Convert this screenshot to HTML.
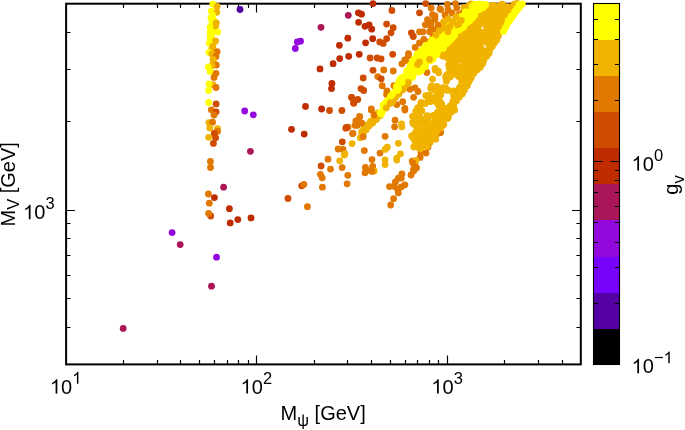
<!DOCTYPE html>
<html><head><meta charset="utf-8"><title>scatter</title>
<style>html,body{margin:0;padding:0;background:#fff;}body{width:685px;height:430px;overflow:hidden;position:relative;font-family:"Liberation Sans",sans-serif;}</style>
</head><body>
<svg width="685" height="430" viewBox="0 0 685 430" style="display:block;position:absolute;left:0;top:0">
<rect width="685" height="430" fill="#fff"/>
<rect x="593.5" y="328.40" width="26.0" height="36.40" fill="#000000" shape-rendering="crispEdges"/>
<rect x="593.5" y="292.30" width="26.0" height="36.40" fill="#5500a4" shape-rendering="crispEdges"/>
<rect x="593.5" y="256.20" width="26.0" height="36.40" fill="#7803fb" shape-rendering="crispEdges"/>
<rect x="593.5" y="220.10" width="26.0" height="36.40" fill="#9309dd" shape-rendering="crispEdges"/>
<rect x="593.5" y="184.00" width="26.0" height="36.40" fill="#aa1657" shape-rendering="crispEdges"/>
<rect x="593.5" y="147.90" width="26.0" height="36.40" fill="#be2c00" shape-rendering="crispEdges"/>
<rect x="593.5" y="111.80" width="26.0" height="36.40" fill="#d04c00" shape-rendering="crispEdges"/>
<rect x="593.5" y="75.70" width="26.0" height="36.40" fill="#e17800" shape-rendering="crispEdges"/>
<rect x="593.5" y="39.60" width="26.0" height="36.40" fill="#f0b300" shape-rendering="crispEdges"/>
<rect x="593.5" y="3.50" width="26.0" height="36.40" fill="#ffff00" shape-rendering="crispEdges"/>
<path d="M593.5 303.50h4.6M619.5 303.50h-4.6M593.5 267.50h4.6M619.5 267.50h-4.6M593.5 242.50h4.6M619.5 242.50h-4.6M593.5 222.50h4.6M619.5 222.50h-4.6M593.5 206.50h4.6M619.5 206.50h-4.6M593.5 192.50h4.6M619.5 192.50h-4.6M593.5 180.50h4.6M619.5 180.50h-4.6M593.5 170.50h4.6M619.5 170.50h-4.6M593.5 100.50h4.6M619.5 100.50h-4.6M593.5 64.50h4.6M619.5 64.50h-4.6M593.5 39.50h4.6M619.5 39.50h-4.6M593.5 19.50h4.6M619.5 19.50h-4.6M593.5 364.50h9M619.5 364.50h-9M593.5 161.50h9M619.5 161.50h-9" stroke="#000" stroke-width="1.1" fill="none"/>
<rect x="593.5" y="3.5" width="26.0" height="361.0" fill="none" stroke="#000" stroke-width="1.1"/>
<path d="M123.50 364.4v-4.4M123.50 3.7v4.4M157.50 364.4v-4.4M157.50 3.7v4.4M180.50 364.4v-4.4M180.50 3.7v4.4M199.50 364.4v-4.4M199.50 3.7v4.4M214.50 364.4v-4.4M214.50 3.7v4.4M227.50 364.4v-4.4M227.50 3.7v4.4M238.50 364.4v-4.4M238.50 3.7v4.4M248.50 364.4v-4.4M248.50 3.7v4.4M256.50 364.4v-8.8M256.50 3.7v8.8M314.50 364.4v-4.4M314.50 3.7v4.4M347.50 364.4v-4.4M347.50 3.7v4.4M371.50 364.4v-4.4M371.50 3.7v4.4M390.50 364.4v-4.4M390.50 3.7v4.4M405.50 364.4v-4.4M405.50 3.7v4.4M417.50 364.4v-4.4M417.50 3.7v4.4M429.50 364.4v-4.4M429.50 3.7v4.4M438.50 364.4v-4.4M438.50 3.7v4.4M447.50 364.4v-8.8M447.50 3.7v8.8M504.50 364.4v-4.4M504.50 3.7v4.4M538.50 364.4v-4.4M538.50 3.7v4.4M562.50 364.4v-4.4M562.50 3.7v4.4M66.1 327.50h4.4M580.8 327.50h-4.4M66.1 298.50h4.4M580.8 298.50h-4.4M66.1 275.50h4.4M580.8 275.50h-4.4M66.1 255.50h4.4M580.8 255.50h-4.4M66.1 238.50h4.4M580.8 238.50h-4.4M66.1 223.50h4.4M580.8 223.50h-4.4M66.1 210.50h8.8M580.8 210.50h-8.8M66.1 121.50h4.4M580.8 121.50h-4.4M66.1 69.50h4.4M580.8 69.50h-4.4M66.1 32.50h4.4M580.8 32.50h-4.4" stroke="#000" stroke-width="1.15" fill="none"/>
<rect x="66.1" y="3.7" width="514.70" height="360.70" fill="none" stroke="#000" stroke-width="2.0"/>
<circle cx="123.2" cy="328.4" r="3.4" fill="#aa1657"/>
<circle cx="211.5" cy="286.2" r="3.4" fill="#aa1657"/>
<circle cx="216.5" cy="257.2" r="3.4" fill="#9309dd"/>
<circle cx="180.2" cy="244.6" r="3.4" fill="#aa1657"/>
<circle cx="172.1" cy="232.6" r="3.4" fill="#9309dd"/>
<circle cx="230.2" cy="222.9" r="3.4" fill="#be2c00"/>
<circle cx="237.8" cy="219.6" r="3.4" fill="#be2c00"/>
<circle cx="251.0" cy="217.9" r="3.4" fill="#be2c00"/>
<circle cx="229.4" cy="208.7" r="3.4" fill="#be2c00"/>
<circle cx="240.0" cy="9.5" r="3.4" fill="#5500a4"/>
<circle cx="244.7" cy="111.0" r="3.4" fill="#9309dd"/>
<circle cx="253.3" cy="114.8" r="3.4" fill="#9309dd"/>
<circle cx="250.4" cy="151.3" r="3.4" fill="#aa1657"/>
<circle cx="223.6" cy="187.2" r="3.4" fill="#aa1657"/>
<circle cx="348.3" cy="15.3" r="3.4" fill="#aa1657"/>
<circle cx="321.0" cy="27.3" r="3.4" fill="#aa1657"/>
<circle cx="297.3" cy="42.0" r="3.4" fill="#9309dd"/>
<circle cx="300.5" cy="41.2" r="3.4" fill="#9309dd"/>
<circle cx="295.3" cy="48.5" r="3.4" fill="#9309dd"/>
<circle cx="347.8" cy="38.2" r="3.4" fill="#be2c00"/>
<circle cx="339.4" cy="45.3" r="3.4" fill="#be2c00"/>
<circle cx="348.7" cy="56.3" r="3.4" fill="#be2c00"/>
<circle cx="339.7" cy="58.6" r="3.4" fill="#be2c00"/>
<circle cx="333.1" cy="63.7" r="3.4" fill="#be2c00"/>
<circle cx="320.0" cy="68.9" r="3.4" fill="#be2c00"/>
<circle cx="331.9" cy="83.5" r="3.4" fill="#be2c00"/>
<circle cx="331.5" cy="88.6" r="3.4" fill="#be2c00"/>
<circle cx="351.6" cy="97.5" r="3.4" fill="#d04c00"/>
<circle cx="353.6" cy="103.0" r="3.4" fill="#d04c00"/>
<circle cx="305.5" cy="106.4" r="3.4" fill="#be2c00"/>
<circle cx="321.6" cy="109.0" r="3.4" fill="#be2c00"/>
<circle cx="329.5" cy="110.5" r="3.4" fill="#d04c00"/>
<circle cx="341.9" cy="110.5" r="3.4" fill="#d04c00"/>
<circle cx="291.5" cy="129.3" r="3.4" fill="#be2c00"/>
<circle cx="304.2" cy="134.1" r="3.4" fill="#be2c00"/>
<circle cx="348.0" cy="127.2" r="3.4" fill="#e17800"/>
<circle cx="345.8" cy="128.2" r="3.4" fill="#d04c00"/>
<circle cx="355.0" cy="125.3" r="3.4" fill="#e17800"/>
<circle cx="352.5" cy="133.6" r="3.4" fill="#e17800"/>
<circle cx="342.3" cy="141.8" r="3.4" fill="#d04c00"/>
<circle cx="352.1" cy="143.6" r="3.4" fill="#f0b300"/>
<circle cx="338.2" cy="149.0" r="3.4" fill="#e17800"/>
<circle cx="343.0" cy="149.4" r="3.4" fill="#e17800"/>
<circle cx="344.3" cy="155.0" r="3.4" fill="#f0b300"/>
<circle cx="328.0" cy="159.2" r="3.4" fill="#e17800"/>
<circle cx="339.7" cy="160.8" r="3.4" fill="#f0b300"/>
<circle cx="321.1" cy="166.0" r="3.4" fill="#d04c00"/>
<circle cx="342.2" cy="167.6" r="3.4" fill="#e17800"/>
<circle cx="330.5" cy="169.1" r="3.4" fill="#e17800"/>
<circle cx="320.4" cy="174.3" r="3.4" fill="#e17800"/>
<circle cx="322.2" cy="177.8" r="3.4" fill="#e17800"/>
<circle cx="347.8" cy="175.3" r="3.4" fill="#e17800"/>
<circle cx="347.1" cy="183.8" r="3.4" fill="#e17800"/>
<circle cx="322.4" cy="187.2" r="3.4" fill="#e17800"/>
<circle cx="301.7" cy="185.8" r="3.4" fill="#d04c00"/>
<circle cx="303.9" cy="184.5" r="3.4" fill="#e17800"/>
<circle cx="288.0" cy="198.5" r="3.4" fill="#d04c00"/>
<circle cx="307.4" cy="206.7" r="3.4" fill="#e17800"/>
<circle cx="358.4" cy="12.8" r="3.4" fill="#be2c00"/>
<circle cx="361.5" cy="14.2" r="3.4" fill="#be2c00"/>
<circle cx="373.0" cy="3.6" r="3.4" fill="#be2c00"/>
<circle cx="358.6" cy="22.3" r="3.4" fill="#be2c00"/>
<circle cx="365.0" cy="26.3" r="3.4" fill="#be2c00"/>
<circle cx="369.1" cy="24.8" r="3.4" fill="#be2c00"/>
<circle cx="371.7" cy="29.2" r="3.4" fill="#be2c00"/>
<circle cx="372.7" cy="38.7" r="3.4" fill="#be2c00"/>
<circle cx="365.6" cy="42.8" r="3.4" fill="#be2c00"/>
<circle cx="359.2" cy="54.3" r="3.4" fill="#be2c00"/>
<circle cx="391.9" cy="10.5" r="3.4" fill="#d04c00"/>
<circle cx="386.6" cy="24.1" r="3.4" fill="#d04c00"/>
<circle cx="393.2" cy="27.7" r="3.4" fill="#d04c00"/>
<circle cx="391.0" cy="32.8" r="3.4" fill="#d04c00"/>
<circle cx="386.6" cy="38.7" r="3.4" fill="#d04c00"/>
<circle cx="379.7" cy="41.9" r="3.4" fill="#d04c00"/>
<circle cx="383.2" cy="43.4" r="3.4" fill="#d04c00"/>
<circle cx="392.7" cy="54.3" r="3.4" fill="#d04c00"/>
<circle cx="370.1" cy="58.0" r="3.4" fill="#d04c00"/>
<circle cx="377.1" cy="58.0" r="3.4" fill="#d04c00"/>
<circle cx="381.1" cy="58.9" r="3.4" fill="#d04c00"/>
<circle cx="425.7" cy="3.6" r="3.4" fill="#d04c00"/>
<circle cx="419.5" cy="12.8" r="3.4" fill="#d04c00"/>
<circle cx="411.4" cy="32.8" r="3.4" fill="#d04c00"/>
<circle cx="413.3" cy="36.5" r="3.4" fill="#d04c00"/>
<circle cx="431.1" cy="8.0" r="3.4" fill="#e17800"/>
<circle cx="440.6" cy="9.5" r="3.4" fill="#e17800"/>
<circle cx="432.6" cy="14.6" r="3.4" fill="#e17800"/>
<circle cx="427.5" cy="19.7" r="3.4" fill="#e17800"/>
<circle cx="431.1" cy="21.9" r="3.4" fill="#e17800"/>
<circle cx="425.3" cy="24.8" r="3.4" fill="#e17800"/>
<circle cx="438.4" cy="25.5" r="3.4" fill="#e17800"/>
<circle cx="419.5" cy="31.8" r="3.4" fill="#e17800"/>
<circle cx="423.1" cy="31.8" r="3.4" fill="#e17800"/>
<circle cx="429.7" cy="31.8" r="3.4" fill="#e17800"/>
<circle cx="423.8" cy="39.4" r="3.4" fill="#e17800"/>
<circle cx="419.5" cy="43.0" r="3.4" fill="#e17800"/>
<circle cx="415.1" cy="47.4" r="3.4" fill="#e17800"/>
<circle cx="408.5" cy="53.6" r="3.4" fill="#e17800"/>
<circle cx="404.9" cy="59.9" r="3.4" fill="#e17800"/>
<circle cx="439.2" cy="31.4" r="3.4" fill="#f0b300"/>
<circle cx="428.0" cy="42.0" r="3.4" fill="#e17800"/>
<circle cx="433.0" cy="37.0" r="3.4" fill="#e17800"/>
<circle cx="436.0" cy="30.0" r="3.4" fill="#e17800"/>
<circle cx="426.0" cy="47.0" r="3.4" fill="#e17800"/>
<circle cx="421.0" cy="51.0" r="3.4" fill="#e17800"/>
<circle cx="431.0" cy="27.0" r="3.4" fill="#e17800"/>
<circle cx="435.0" cy="19.0" r="3.4" fill="#e17800"/>
<circle cx="440.0" cy="8.8" r="3.4" fill="#e17800"/>
<circle cx="448.0" cy="10.0" r="3.4" fill="#e17800"/>
<circle cx="447.4" cy="4.4" r="3.4" fill="#e17800"/>
<circle cx="456.9" cy="8.0" r="3.4" fill="#e17800"/>
<circle cx="459.0" cy="14.6" r="3.4" fill="#e17800"/>
<circle cx="462.7" cy="13.0" r="3.4" fill="#e17800"/>
<circle cx="455.4" cy="3.6" r="3.4" fill="#e17800"/>
<circle cx="438.0" cy="24.8" r="3.4" fill="#e17800"/>
<circle cx="435.0" cy="16.0" r="3.4" fill="#e17800"/>
<circle cx="448.0" cy="19.0" r="3.4" fill="#f0b300"/>
<circle cx="452.5" cy="22.0" r="3.4" fill="#f0b300"/>
<circle cx="443.8" cy="22.0" r="3.4" fill="#f0b300"/>
<circle cx="439.4" cy="30.7" r="3.4" fill="#f0b300"/>
<circle cx="461.3" cy="20.4" r="3.4" fill="#f0b300"/>
<circle cx="464.0" cy="7.3" r="3.4" fill="#f0b300"/>
<circle cx="468.6" cy="5.8" r="3.4" fill="#f0b300"/>
<circle cx="444.0" cy="28.0" r="3.4" fill="#f0b300"/>
<circle cx="450.0" cy="26.0" r="3.4" fill="#f0b300"/>
<circle cx="456.0" cy="17.0" r="3.4" fill="#f0b300"/>
<circle cx="466.0" cy="11.0" r="3.4" fill="#f0b300"/>
<circle cx="471.0" cy="4.0" r="3.4" fill="#f0b300"/>
<circle cx="445.0" cy="15.0" r="3.4" fill="#e17800"/>
<circle cx="452.0" cy="13.0" r="3.4" fill="#e17800"/>
<circle cx="373.0" cy="70.3" r="3.4" fill="#d04c00"/>
<circle cx="383.7" cy="69.9" r="3.4" fill="#e17800"/>
<circle cx="393.2" cy="71.0" r="3.4" fill="#e17800"/>
<circle cx="363.2" cy="78.0" r="3.4" fill="#d04c00"/>
<circle cx="377.8" cy="76.6" r="3.4" fill="#e17800"/>
<circle cx="381.2" cy="78.8" r="3.4" fill="#d04c00"/>
<circle cx="382.2" cy="85.7" r="3.4" fill="#e17800"/>
<circle cx="361.0" cy="88.6" r="3.4" fill="#d04c00"/>
<circle cx="363.7" cy="90.5" r="3.4" fill="#d04c00"/>
<circle cx="386.9" cy="90.8" r="3.4" fill="#e17800"/>
<circle cx="386.6" cy="94.4" r="3.4" fill="#e17800"/>
<circle cx="393.9" cy="85.7" r="3.4" fill="#e17800"/>
<circle cx="351.6" cy="97.3" r="3.4" fill="#d04c00"/>
<circle cx="357.8" cy="99.5" r="3.4" fill="#d04c00"/>
<circle cx="353.8" cy="103.2" r="3.4" fill="#d04c00"/>
<circle cx="371.3" cy="109.0" r="3.4" fill="#e17800"/>
<circle cx="359.6" cy="116.3" r="3.4" fill="#e17800"/>
<circle cx="374.2" cy="114.9" r="3.4" fill="#e17800"/>
<circle cx="401.9" cy="63.8" r="3.4" fill="#e17800"/>
<circle cx="405.6" cy="60.8" r="3.4" fill="#e17800"/>
<circle cx="408.5" cy="55.7" r="3.4" fill="#e17800"/>
<circle cx="426.8" cy="72.5" r="3.4" fill="#e17800"/>
<circle cx="410.0" cy="89.3" r="3.4" fill="#e17800"/>
<circle cx="415.0" cy="87.8" r="3.4" fill="#e17800"/>
<circle cx="418.0" cy="91.5" r="3.4" fill="#e17800"/>
<circle cx="413.6" cy="97.3" r="3.4" fill="#e17800"/>
<circle cx="402.7" cy="101.7" r="3.4" fill="#e17800"/>
<circle cx="396.8" cy="104.6" r="3.4" fill="#e17800"/>
<circle cx="404.9" cy="108.3" r="3.4" fill="#e17800"/>
<circle cx="380.0" cy="115.8" r="3.4" fill="#f0b300"/>
<circle cx="376.4" cy="119.5" r="3.4" fill="#f0b300"/>
<circle cx="372.7" cy="123.1" r="3.4" fill="#f0b300"/>
<circle cx="369.1" cy="126.0" r="3.4" fill="#f0b300"/>
<circle cx="366.2" cy="129.7" r="3.4" fill="#f0b300"/>
<circle cx="363.2" cy="133.4" r="3.4" fill="#f0b300"/>
<circle cx="360.3" cy="137.7" r="3.4" fill="#f0b300"/>
<circle cx="378.0" cy="113.0" r="3.4" fill="#f0b300"/>
<circle cx="374.0" cy="117.5" r="3.4" fill="#f0b300"/>
<circle cx="370.5" cy="121.5" r="3.4" fill="#f0b300"/>
<circle cx="367.5" cy="125.0" r="3.4" fill="#f0b300"/>
<circle cx="364.0" cy="128.5" r="3.4" fill="#f0b300"/>
<circle cx="361.5" cy="132.0" r="3.4" fill="#f0b300"/>
<circle cx="359.6" cy="117.3" r="3.4" fill="#e17800"/>
<circle cx="355.9" cy="121.0" r="3.4" fill="#e17800"/>
<circle cx="361.8" cy="123.1" r="3.4" fill="#e17800"/>
<circle cx="357.4" cy="125.3" r="3.4" fill="#e17800"/>
<circle cx="353.0" cy="133.4" r="3.4" fill="#e17800"/>
<circle cx="363.2" cy="136.7" r="3.4" fill="#e17800"/>
<circle cx="374.2" cy="115.1" r="3.4" fill="#e17800"/>
<circle cx="371.3" cy="110.0" r="3.4" fill="#e17800"/>
<circle cx="346.5" cy="127.5" r="3.4" fill="#d04c00"/>
<circle cx="345.0" cy="153.8" r="3.4" fill="#f0b300"/>
<circle cx="364.3" cy="150.6" r="3.4" fill="#e17800"/>
<circle cx="380.0" cy="153.1" r="3.4" fill="#e17800"/>
<circle cx="385.1" cy="136.3" r="3.4" fill="#e17800"/>
<circle cx="372.0" cy="159.6" r="3.4" fill="#e17800"/>
<circle cx="372.7" cy="166.4" r="3.4" fill="#e17800"/>
<circle cx="365.4" cy="167.5" r="3.4" fill="#e17800"/>
<circle cx="370.5" cy="170.6" r="3.4" fill="#e17800"/>
<circle cx="387.3" cy="147.2" r="3.4" fill="#f0b300"/>
<circle cx="385.1" cy="149.4" r="3.4" fill="#f0b300"/>
<circle cx="385.1" cy="159.8" r="3.4" fill="#f0b300"/>
<circle cx="385.1" cy="164.6" r="3.4" fill="#f0b300"/>
<circle cx="398.3" cy="143.3" r="3.4" fill="#f0b300"/>
<circle cx="400.5" cy="153.8" r="3.4" fill="#f0b300"/>
<circle cx="396.8" cy="158.2" r="3.4" fill="#f0b300"/>
<circle cx="396.8" cy="160.0" r="3.4" fill="#f0b300"/>
<circle cx="395.1" cy="120.2" r="3.4" fill="#e17800"/>
<circle cx="394.6" cy="126.8" r="3.4" fill="#e17800"/>
<circle cx="401.6" cy="123.9" r="3.4" fill="#f0b300"/>
<circle cx="401.9" cy="126.8" r="3.4" fill="#f0b300"/>
<circle cx="404.9" cy="110.0" r="3.4" fill="#e17800"/>
<circle cx="420.9" cy="152.3" r="3.4" fill="#e17800"/>
<circle cx="426.0" cy="153.1" r="3.4" fill="#e17800"/>
<circle cx="420.2" cy="157.4" r="3.4" fill="#e17800"/>
<circle cx="412.2" cy="161.1" r="3.4" fill="#e17800"/>
<circle cx="415.1" cy="164.7" r="3.4" fill="#e17800"/>
<circle cx="413.6" cy="169.1" r="3.4" fill="#e17800"/>
<circle cx="440.6" cy="132.6" r="3.4" fill="#e17800"/>
<circle cx="415.8" cy="160.4" r="3.4" fill="#f0b300"/>
<circle cx="374.2" cy="171.0" r="3.4" fill="#f0b300"/>
<circle cx="365.0" cy="172.8" r="3.4" fill="#e17800"/>
<circle cx="372.0" cy="171.4" r="3.4" fill="#e17800"/>
<circle cx="412.9" cy="162.9" r="3.4" fill="#e17800"/>
<circle cx="416.5" cy="168.0" r="3.4" fill="#e17800"/>
<circle cx="413.6" cy="171.0" r="3.4" fill="#e17800"/>
<circle cx="411.0" cy="175.0" r="3.4" fill="#e17800"/>
<circle cx="401.9" cy="173.9" r="3.4" fill="#e17800"/>
<circle cx="401.2" cy="178.2" r="3.4" fill="#e17800"/>
<circle cx="398.3" cy="178.2" r="3.4" fill="#e17800"/>
<circle cx="395.4" cy="181.9" r="3.4" fill="#e17800"/>
<circle cx="404.9" cy="184.8" r="3.4" fill="#e17800"/>
<circle cx="401.2" cy="187.0" r="3.4" fill="#e17800"/>
<circle cx="389.5" cy="186.6" r="3.4" fill="#e17800"/>
<circle cx="393.9" cy="186.3" r="3.4" fill="#e17800"/>
<circle cx="397.6" cy="189.2" r="3.4" fill="#e17800"/>
<circle cx="398.3" cy="192.8" r="3.4" fill="#e17800"/>
<circle cx="393.6" cy="198.7" r="3.4" fill="#e17800"/>
<circle cx="390.7" cy="205.0" r="3.4" fill="#e17800"/>
<circle cx="454.7" cy="110.0" r="3.4" fill="#f0b300"/>
<circle cx="448.1" cy="118.0" r="3.4" fill="#f0b300"/>
<circle cx="441.6" cy="117.3" r="3.4" fill="#f0b300"/>
<circle cx="443.8" cy="124.6" r="3.4" fill="#f0b300"/>
<circle cx="439.4" cy="126.0" r="3.4" fill="#f0b300"/>
<circle cx="436.5" cy="134.8" r="3.4" fill="#f0b300"/>
<circle cx="435.7" cy="139.2" r="3.4" fill="#f0b300"/>
<circle cx="417.0" cy="123.8" r="3.4" fill="#f0b300"/>
<circle cx="447.5" cy="114.5" r="3.4" fill="#f0b300"/>
<circle cx="421.9" cy="123.6" r="3.4" fill="#f0b300"/>
<circle cx="465.6" cy="67.9" r="3.4" fill="#f0b300"/>
<circle cx="468.0" cy="80.0" r="3.4" fill="#f0b300"/>
<circle cx="488.9" cy="14.0" r="3.4" fill="#f0b300"/>
<circle cx="486.9" cy="28.1" r="3.4" fill="#f0b300"/>
<circle cx="466.8" cy="31.0" r="3.4" fill="#f0b300"/>
<circle cx="467.7" cy="41.9" r="3.4" fill="#f0b300"/>
<circle cx="439.0" cy="112.7" r="3.4" fill="#f0b300"/>
<circle cx="465.3" cy="60.8" r="3.4" fill="#f0b300"/>
<circle cx="467.0" cy="67.9" r="3.4" fill="#f0b300"/>
<circle cx="433.7" cy="132.0" r="3.4" fill="#f0b300"/>
<circle cx="468.0" cy="35.7" r="3.4" fill="#f0b300"/>
<circle cx="496.3" cy="33.1" r="3.4" fill="#f0b300"/>
<circle cx="459.4" cy="73.3" r="3.4" fill="#f0b300"/>
<circle cx="505.4" cy="11.6" r="3.4" fill="#f0b300"/>
<circle cx="454.6" cy="69.3" r="3.4" fill="#f0b300"/>
<circle cx="468.2" cy="69.4" r="3.4" fill="#f0b300"/>
<circle cx="466.3" cy="42.8" r="3.4" fill="#f0b300"/>
<circle cx="487.2" cy="19.1" r="3.4" fill="#f0b300"/>
<circle cx="500.4" cy="5.0" r="3.4" fill="#f0b300"/>
<circle cx="489.6" cy="16.5" r="3.4" fill="#f0b300"/>
<circle cx="483.5" cy="20.2" r="3.4" fill="#f0b300"/>
<circle cx="440.1" cy="132.6" r="3.4" fill="#e17800"/>
<circle cx="483.0" cy="38.2" r="3.4" fill="#f0b300"/>
<circle cx="442.0" cy="55.2" r="3.4" fill="#f0b300"/>
<circle cx="439.2" cy="103.6" r="3.4" fill="#f0b300"/>
<circle cx="482.0" cy="52.3" r="3.4" fill="#f0b300"/>
<circle cx="489.1" cy="53.2" r="3.4" fill="#f0b300"/>
<circle cx="463.7" cy="56.8" r="3.4" fill="#f0b300"/>
<circle cx="463.3" cy="46.2" r="3.4" fill="#f0b300"/>
<circle cx="489.4" cy="45.1" r="3.4" fill="#f0b300"/>
<circle cx="484.2" cy="7.6" r="3.4" fill="#f0b300"/>
<circle cx="509.1" cy="8.4" r="3.4" fill="#f0b300"/>
<circle cx="507.0" cy="13.0" r="3.4" fill="#f0b300"/>
<circle cx="438.5" cy="90.0" r="3.4" fill="#f0b300"/>
<circle cx="440.4" cy="95.1" r="3.4" fill="#f0b300"/>
<circle cx="431.2" cy="128.3" r="3.4" fill="#f0b300"/>
<circle cx="434.4" cy="125.3" r="3.4" fill="#f0b300"/>
<circle cx="473.1" cy="56.4" r="3.4" fill="#f0b300"/>
<circle cx="450.4" cy="63.1" r="3.4" fill="#f0b300"/>
<circle cx="441.6" cy="104.0" r="3.4" fill="#f0b300"/>
<circle cx="447.5" cy="74.6" r="3.4" fill="#f0b300"/>
<circle cx="468.3" cy="25.4" r="3.4" fill="#f0b300"/>
<circle cx="422.4" cy="123.1" r="3.4" fill="#f0b300"/>
<circle cx="459.4" cy="43.5" r="3.4" fill="#f0b300"/>
<circle cx="478.8" cy="47.4" r="3.4" fill="#f0b300"/>
<circle cx="443.3" cy="56.3" r="3.4" fill="#f0b300"/>
<circle cx="471.8" cy="66.4" r="3.4" fill="#f0b300"/>
<circle cx="448.7" cy="64.7" r="3.4" fill="#f0b300"/>
<circle cx="445.9" cy="108.5" r="3.4" fill="#f0b300"/>
<circle cx="497.1" cy="31.6" r="3.4" fill="#f0b300"/>
<circle cx="453.2" cy="55.2" r="3.4" fill="#f0b300"/>
<circle cx="417.5" cy="117.3" r="3.4" fill="#f0b300"/>
<circle cx="467.1" cy="83.9" r="3.4" fill="#f0b300"/>
<circle cx="473.4" cy="49.8" r="3.4" fill="#f0b300"/>
<circle cx="450.1" cy="67.0" r="3.4" fill="#f0b300"/>
<circle cx="415.1" cy="146.0" r="3.4" fill="#f0b300"/>
<circle cx="479.4" cy="44.2" r="3.4" fill="#f0b300"/>
<circle cx="440.5" cy="111.9" r="3.4" fill="#f0b300"/>
<circle cx="492.1" cy="5.7" r="3.4" fill="#f0b300"/>
<circle cx="483.2" cy="9.8" r="3.4" fill="#f0b300"/>
<circle cx="458.2" cy="36.7" r="3.4" fill="#f0b300"/>
<circle cx="488.0" cy="19.9" r="3.4" fill="#f0b300"/>
<circle cx="455.4" cy="99.4" r="3.4" fill="#f0b300"/>
<circle cx="473.7" cy="28.9" r="3.4" fill="#f0b300"/>
<circle cx="424.1" cy="138.3" r="3.4" fill="#f0b300"/>
<circle cx="486.8" cy="56.3" r="3.4" fill="#f0b300"/>
<circle cx="481.8" cy="61.4" r="3.4" fill="#f0b300"/>
<circle cx="476.1" cy="40.1" r="3.4" fill="#f0b300"/>
<circle cx="463.6" cy="52.1" r="3.4" fill="#f0b300"/>
<circle cx="502.7" cy="28.3" r="3.4" fill="#f0b300"/>
<circle cx="479.6" cy="55.9" r="3.4" fill="#f0b300"/>
<circle cx="496.2" cy="22.3" r="3.4" fill="#f0b300"/>
<circle cx="453.5" cy="95.1" r="3.4" fill="#f0b300"/>
<circle cx="466.7" cy="28.1" r="3.4" fill="#f0b300"/>
<circle cx="449.2" cy="43.6" r="3.4" fill="#f0b300"/>
<circle cx="502.5" cy="9.5" r="3.4" fill="#f0b300"/>
<circle cx="461.7" cy="35.2" r="3.4" fill="#f0b300"/>
<circle cx="493.2" cy="22.7" r="3.4" fill="#f0b300"/>
<circle cx="502.6" cy="9.6" r="3.4" fill="#f0b300"/>
<circle cx="499.3" cy="16.8" r="3.4" fill="#f0b300"/>
<circle cx="486.2" cy="9.1" r="3.4" fill="#f0b300"/>
<circle cx="477.5" cy="22.6" r="3.4" fill="#f0b300"/>
<circle cx="435.2" cy="90.3" r="3.4" fill="#f0b300"/>
<circle cx="450.3" cy="76.0" r="3.4" fill="#f0b300"/>
<circle cx="502.9" cy="8.4" r="3.4" fill="#f0b300"/>
<circle cx="447.1" cy="54.5" r="3.4" fill="#f0b300"/>
<circle cx="434.4" cy="134.9" r="3.4" fill="#f0b300"/>
<circle cx="493.2" cy="42.1" r="3.4" fill="#f0b300"/>
<circle cx="507.1" cy="9.1" r="3.4" fill="#f0b300"/>
<circle cx="457.8" cy="66.9" r="3.4" fill="#f0b300"/>
<circle cx="479.1" cy="24.1" r="3.4" fill="#f0b300"/>
<circle cx="427.6" cy="127.7" r="3.4" fill="#f0b300"/>
<circle cx="439.7" cy="94.9" r="3.4" fill="#f0b300"/>
<circle cx="503.1" cy="27.3" r="3.4" fill="#f0b300"/>
<circle cx="492.6" cy="9.9" r="3.4" fill="#f0b300"/>
<circle cx="509.2" cy="9.2" r="3.4" fill="#f0b300"/>
<circle cx="516.4" cy="7.4" r="3.4" fill="#f0b300"/>
<circle cx="423.3" cy="127.1" r="3.4" fill="#f0b300"/>
<circle cx="449.7" cy="71.6" r="3.4" fill="#f0b300"/>
<circle cx="453.0" cy="55.1" r="3.4" fill="#f0b300"/>
<circle cx="428.4" cy="100.2" r="3.4" fill="#f0b300"/>
<circle cx="480.1" cy="18.9" r="3.4" fill="#f0b300"/>
<circle cx="490.3" cy="41.1" r="3.4" fill="#f0b300"/>
<circle cx="459.4" cy="31.1" r="3.4" fill="#f0b300"/>
<circle cx="413.8" cy="147.0" r="3.4" fill="#f0b300"/>
<circle cx="504.6" cy="17.0" r="3.4" fill="#f0b300"/>
<circle cx="434.8" cy="88.4" r="3.4" fill="#f0b300"/>
<circle cx="480.4" cy="64.1" r="3.4" fill="#f0b300"/>
<circle cx="509.1" cy="10.5" r="3.4" fill="#f0b300"/>
<circle cx="508.4" cy="8.5" r="3.4" fill="#f0b300"/>
<circle cx="470.1" cy="28.3" r="3.4" fill="#f0b300"/>
<circle cx="439.3" cy="115.8" r="3.4" fill="#f0b300"/>
<circle cx="497.9" cy="11.8" r="3.4" fill="#f0b300"/>
<circle cx="428.2" cy="132.7" r="3.4" fill="#f0b300"/>
<circle cx="431.5" cy="86.0" r="3.4" fill="#f0b300"/>
<circle cx="456.4" cy="101.0" r="3.4" fill="#f0b300"/>
<circle cx="471.1" cy="77.8" r="3.4" fill="#f0b300"/>
<circle cx="487.1" cy="42.2" r="3.4" fill="#f0b300"/>
<circle cx="459.5" cy="46.2" r="3.4" fill="#f0b300"/>
<circle cx="436.9" cy="86.5" r="3.4" fill="#f0b300"/>
<circle cx="465.1" cy="63.5" r="3.4" fill="#f0b300"/>
<circle cx="441.0" cy="120.9" r="3.4" fill="#f0b300"/>
<circle cx="473.6" cy="24.8" r="3.4" fill="#f0b300"/>
<circle cx="452.6" cy="106.7" r="3.4" fill="#f0b300"/>
<circle cx="459.7" cy="57.7" r="3.4" fill="#f0b300"/>
<circle cx="450.3" cy="56.9" r="3.4" fill="#f0b300"/>
<circle cx="462.5" cy="93.8" r="3.4" fill="#f0b300"/>
<circle cx="446.4" cy="81.2" r="3.4" fill="#f0b300"/>
<circle cx="481.9" cy="13.3" r="3.4" fill="#f0b300"/>
<circle cx="453.4" cy="46.5" r="3.4" fill="#f0b300"/>
<circle cx="464.5" cy="77.3" r="3.4" fill="#f0b300"/>
<circle cx="449.0" cy="49.0" r="3.4" fill="#f0b300"/>
<circle cx="460.5" cy="86.7" r="3.4" fill="#f0b300"/>
<circle cx="477.2" cy="30.8" r="3.4" fill="#f0b300"/>
<circle cx="452.8" cy="56.0" r="3.4" fill="#f0b300"/>
<circle cx="462.5" cy="35.0" r="3.4" fill="#f0b300"/>
<circle cx="490.5" cy="8.5" r="3.4" fill="#f0b300"/>
<circle cx="456.4" cy="42.3" r="3.4" fill="#f0b300"/>
<circle cx="459.0" cy="31.3" r="3.4" fill="#f0b300"/>
<circle cx="456.1" cy="94.5" r="3.4" fill="#f0b300"/>
<circle cx="438.4" cy="100.8" r="3.4" fill="#f0b300"/>
<circle cx="460.1" cy="38.2" r="3.4" fill="#f0b300"/>
<circle cx="470.8" cy="40.0" r="3.4" fill="#f0b300"/>
<circle cx="490.5" cy="10.7" r="3.4" fill="#f0b300"/>
<circle cx="480.1" cy="61.7" r="3.4" fill="#f0b300"/>
<circle cx="472.3" cy="70.4" r="3.4" fill="#f0b300"/>
<circle cx="491.4" cy="30.1" r="3.4" fill="#f0b300"/>
<circle cx="428.0" cy="144.3" r="3.4" fill="#f0b300"/>
<circle cx="436.9" cy="113.9" r="3.4" fill="#f0b300"/>
<circle cx="490.8" cy="44.4" r="3.4" fill="#f0b300"/>
<circle cx="455.5" cy="92.6" r="3.4" fill="#f0b300"/>
<circle cx="474.6" cy="19.1" r="3.4" fill="#f0b300"/>
<circle cx="449.1" cy="67.6" r="3.4" fill="#f0b300"/>
<circle cx="474.7" cy="38.2" r="3.4" fill="#f0b300"/>
<circle cx="455.2" cy="48.9" r="3.4" fill="#f0b300"/>
<circle cx="468.2" cy="70.4" r="3.4" fill="#f0b300"/>
<circle cx="496.0" cy="36.2" r="3.4" fill="#f0b300"/>
<circle cx="491.7" cy="7.2" r="3.4" fill="#f0b300"/>
<circle cx="463.0" cy="66.8" r="3.4" fill="#f0b300"/>
<circle cx="465.8" cy="70.6" r="3.4" fill="#f0b300"/>
<circle cx="452.3" cy="49.9" r="3.4" fill="#f0b300"/>
<circle cx="420.3" cy="139.7" r="3.4" fill="#f0b300"/>
<circle cx="483.9" cy="14.8" r="3.4" fill="#f0b300"/>
<circle cx="439.2" cy="105.2" r="3.4" fill="#f0b300"/>
<circle cx="490.3" cy="30.5" r="3.4" fill="#f0b300"/>
<circle cx="452.7" cy="39.9" r="3.4" fill="#f0b300"/>
<circle cx="487.0" cy="16.5" r="3.4" fill="#f0b300"/>
<circle cx="480.5" cy="61.3" r="3.4" fill="#f0b300"/>
<circle cx="458.3" cy="58.2" r="3.4" fill="#f0b300"/>
<circle cx="495.2" cy="40.4" r="3.4" fill="#f0b300"/>
<circle cx="486.4" cy="23.8" r="3.4" fill="#f0b300"/>
<circle cx="413.4" cy="138.3" r="3.4" fill="#f0b300"/>
<circle cx="463.0" cy="61.8" r="3.4" fill="#f0b300"/>
<circle cx="465.9" cy="28.1" r="3.4" fill="#f0b300"/>
<circle cx="447.2" cy="118.5" r="3.4" fill="#f0b300"/>
<circle cx="494.2" cy="28.2" r="3.4" fill="#f0b300"/>
<circle cx="422.4" cy="128.5" r="3.4" fill="#f0b300"/>
<circle cx="444.6" cy="112.8" r="3.4" fill="#f0b300"/>
<circle cx="493.6" cy="11.4" r="3.4" fill="#f0b300"/>
<circle cx="478.3" cy="26.0" r="3.4" fill="#f0b300"/>
<circle cx="482.6" cy="63.8" r="3.4" fill="#f0b300"/>
<circle cx="462.4" cy="29.8" r="3.4" fill="#f0b300"/>
<circle cx="490.6" cy="46.8" r="3.4" fill="#f0b300"/>
<circle cx="448.5" cy="115.5" r="3.4" fill="#f0b300"/>
<circle cx="469.0" cy="70.5" r="3.4" fill="#f0b300"/>
<circle cx="488.8" cy="34.4" r="3.4" fill="#f0b300"/>
<circle cx="459.7" cy="70.6" r="3.4" fill="#f0b300"/>
<circle cx="449.3" cy="58.7" r="3.4" fill="#f0b300"/>
<circle cx="484.6" cy="51.3" r="3.4" fill="#f0b300"/>
<circle cx="489.8" cy="6.2" r="3.4" fill="#f0b300"/>
<circle cx="496.7" cy="28.0" r="3.4" fill="#f0b300"/>
<circle cx="459.8" cy="77.1" r="3.4" fill="#f0b300"/>
<circle cx="487.2" cy="51.9" r="3.4" fill="#f0b300"/>
<circle cx="471.9" cy="65.0" r="3.4" fill="#f0b300"/>
<circle cx="441.5" cy="118.7" r="3.4" fill="#f0b300"/>
<circle cx="509.6" cy="9.8" r="3.4" fill="#f0b300"/>
<circle cx="445.8" cy="111.4" r="3.4" fill="#f0b300"/>
<circle cx="463.9" cy="74.7" r="3.4" fill="#f0b300"/>
<circle cx="436.7" cy="97.3" r="3.4" fill="#f0b300"/>
<circle cx="435.1" cy="122.1" r="3.4" fill="#f0b300"/>
<circle cx="467.3" cy="55.0" r="3.4" fill="#f0b300"/>
<circle cx="465.7" cy="25.6" r="3.4" fill="#f0b300"/>
<circle cx="462.8" cy="91.3" r="3.4" fill="#f0b300"/>
<circle cx="450.5" cy="109.6" r="3.4" fill="#f0b300"/>
<circle cx="459.2" cy="96.9" r="3.4" fill="#f0b300"/>
<circle cx="425.8" cy="95.6" r="3.4" fill="#f0b300"/>
<circle cx="440.2" cy="102.2" r="3.4" fill="#f0b300"/>
<circle cx="475.8" cy="40.6" r="3.4" fill="#f0b300"/>
<circle cx="446.4" cy="90.1" r="3.4" fill="#f0b300"/>
<circle cx="495.2" cy="6.7" r="3.4" fill="#f0b300"/>
<circle cx="442.5" cy="125.0" r="3.4" fill="#f0b300"/>
<circle cx="506.5" cy="17.7" r="3.4" fill="#f0b300"/>
<circle cx="450.7" cy="106.7" r="3.4" fill="#f0b300"/>
<circle cx="462.8" cy="72.6" r="3.4" fill="#f0b300"/>
<circle cx="468.6" cy="79.4" r="3.4" fill="#f0b300"/>
<circle cx="438.3" cy="112.6" r="3.4" fill="#f0b300"/>
<circle cx="473.8" cy="73.6" r="3.4" fill="#f0b300"/>
<circle cx="499.6" cy="12.2" r="3.4" fill="#f0b300"/>
<circle cx="424.0" cy="136.2" r="3.4" fill="#f0b300"/>
<circle cx="465.9" cy="73.1" r="3.4" fill="#f0b300"/>
<circle cx="492.3" cy="46.5" r="3.4" fill="#f0b300"/>
<circle cx="474.0" cy="26.0" r="3.4" fill="#f0b300"/>
<circle cx="464.5" cy="83.8" r="3.4" fill="#f0b300"/>
<circle cx="451.1" cy="68.5" r="3.4" fill="#f0b300"/>
<circle cx="498.3" cy="31.9" r="3.4" fill="#f0b300"/>
<circle cx="415.4" cy="132.3" r="3.4" fill="#f0b300"/>
<circle cx="498.5" cy="7.2" r="3.4" fill="#f0b300"/>
<circle cx="480.5" cy="18.8" r="3.4" fill="#f0b300"/>
<circle cx="477.3" cy="69.8" r="3.4" fill="#f0b300"/>
<circle cx="463.3" cy="88.7" r="3.4" fill="#f0b300"/>
<circle cx="459.3" cy="36.0" r="3.4" fill="#f0b300"/>
<circle cx="487.5" cy="51.8" r="3.4" fill="#f0b300"/>
<circle cx="478.7" cy="33.8" r="3.4" fill="#f0b300"/>
<circle cx="443.6" cy="108.5" r="3.4" fill="#f0b300"/>
<circle cx="422.7" cy="130.3" r="3.4" fill="#f0b300"/>
<circle cx="428.1" cy="139.5" r="3.4" fill="#f0b300"/>
<circle cx="414.9" cy="140.8" r="3.4" fill="#f0b300"/>
<circle cx="489.8" cy="21.4" r="3.4" fill="#f0b300"/>
<circle cx="473.8" cy="25.5" r="3.4" fill="#f0b300"/>
<circle cx="418.8" cy="147.7" r="3.4" fill="#f0b300"/>
<circle cx="467.3" cy="85.8" r="3.4" fill="#f0b300"/>
<circle cx="451.7" cy="108.1" r="3.4" fill="#f0b300"/>
<circle cx="466.7" cy="29.5" r="3.4" fill="#f0b300"/>
<circle cx="481.4" cy="54.6" r="3.4" fill="#f0b300"/>
<circle cx="468.5" cy="23.4" r="3.4" fill="#f0b300"/>
<circle cx="441.8" cy="104.4" r="3.4" fill="#f0b300"/>
<circle cx="479.2" cy="47.7" r="3.4" fill="#f0b300"/>
<circle cx="441.6" cy="54.3" r="3.4" fill="#f0b300"/>
<circle cx="411.6" cy="136.0" r="3.4" fill="#f0b300"/>
<circle cx="456.4" cy="98.0" r="3.4" fill="#f0b300"/>
<circle cx="437.5" cy="121.6" r="3.4" fill="#f0b300"/>
<circle cx="502.3" cy="18.5" r="3.4" fill="#f0b300"/>
<circle cx="464.2" cy="44.0" r="3.4" fill="#f0b300"/>
<circle cx="469.5" cy="23.8" r="3.4" fill="#f0b300"/>
<circle cx="462.6" cy="43.5" r="3.4" fill="#f0b300"/>
<circle cx="469.5" cy="24.5" r="3.4" fill="#f0b300"/>
<circle cx="459.1" cy="97.0" r="3.4" fill="#f0b300"/>
<circle cx="412.5" cy="116.5" r="3.4" fill="#f0b300"/>
<circle cx="479.6" cy="37.5" r="3.4" fill="#f0b300"/>
<circle cx="427.0" cy="119.4" r="3.4" fill="#f0b300"/>
<circle cx="483.2" cy="33.2" r="3.4" fill="#f0b300"/>
<circle cx="430.7" cy="88.3" r="3.4" fill="#f0b300"/>
<circle cx="454.8" cy="43.5" r="3.4" fill="#f0b300"/>
<circle cx="453.3" cy="54.0" r="3.4" fill="#f0b300"/>
<circle cx="425.5" cy="103.5" r="3.4" fill="#f0b300"/>
<circle cx="451.4" cy="69.7" r="3.4" fill="#f0b300"/>
<circle cx="421.4" cy="138.2" r="3.4" fill="#f0b300"/>
<circle cx="486.2" cy="24.7" r="3.4" fill="#f0b300"/>
<circle cx="478.7" cy="11.9" r="3.4" fill="#f0b300"/>
<circle cx="503.5" cy="6.1" r="3.4" fill="#f0b300"/>
<circle cx="451.6" cy="67.5" r="3.4" fill="#f0b300"/>
<circle cx="448.4" cy="90.4" r="3.4" fill="#f0b300"/>
<circle cx="463.7" cy="41.4" r="3.4" fill="#f0b300"/>
<circle cx="442.1" cy="53.0" r="3.4" fill="#f0b300"/>
<circle cx="484.2" cy="12.6" r="3.4" fill="#f0b300"/>
<circle cx="415.9" cy="120.0" r="3.4" fill="#f0b300"/>
<circle cx="451.8" cy="45.8" r="3.4" fill="#f0b300"/>
<circle cx="435.7" cy="88.4" r="3.4" fill="#f0b300"/>
<circle cx="458.4" cy="37.2" r="3.4" fill="#f0b300"/>
<circle cx="439.6" cy="111.7" r="3.4" fill="#f0b300"/>
<circle cx="509.5" cy="18.3" r="3.4" fill="#f0b300"/>
<circle cx="453.3" cy="39.5" r="3.4" fill="#f0b300"/>
<circle cx="497.0" cy="22.4" r="3.4" fill="#f0b300"/>
<circle cx="419.6" cy="139.4" r="3.4" fill="#f0b300"/>
<circle cx="452.7" cy="58.9" r="3.4" fill="#f0b300"/>
<circle cx="458.5" cy="47.9" r="3.4" fill="#f0b300"/>
<circle cx="484.2" cy="39.9" r="3.4" fill="#f0b300"/>
<circle cx="468.7" cy="60.7" r="3.4" fill="#f0b300"/>
<circle cx="459.4" cy="58.7" r="3.4" fill="#f0b300"/>
<circle cx="457.7" cy="69.5" r="3.4" fill="#f0b300"/>
<circle cx="464.2" cy="35.3" r="3.4" fill="#f0b300"/>
<circle cx="468.3" cy="79.5" r="3.4" fill="#f0b300"/>
<circle cx="449.7" cy="49.5" r="3.4" fill="#f0b300"/>
<circle cx="453.7" cy="105.4" r="3.4" fill="#f0b300"/>
<circle cx="471.0" cy="78.0" r="3.4" fill="#f0b300"/>
<circle cx="465.6" cy="85.3" r="3.4" fill="#f0b300"/>
<circle cx="507.1" cy="9.5" r="3.4" fill="#f0b300"/>
<circle cx="435.2" cy="68.5" r="3.4" fill="#f0b300"/>
<circle cx="463.0" cy="83.3" r="3.4" fill="#f0b300"/>
<circle cx="427.6" cy="125.7" r="3.4" fill="#f0b300"/>
<circle cx="419.7" cy="107.0" r="3.4" fill="#f0b300"/>
<circle cx="426.2" cy="129.5" r="3.4" fill="#f0b300"/>
<circle cx="473.1" cy="18.6" r="3.4" fill="#f0b300"/>
<circle cx="456.9" cy="34.4" r="3.4" fill="#f0b300"/>
<circle cx="498.9" cy="20.7" r="3.4" fill="#f0b300"/>
<circle cx="476.9" cy="30.1" r="3.4" fill="#f0b300"/>
<circle cx="445.7" cy="77.5" r="3.4" fill="#f0b300"/>
<circle cx="489.9" cy="10.8" r="3.4" fill="#f0b300"/>
<circle cx="417.6" cy="107.9" r="3.4" fill="#f0b300"/>
<circle cx="421.9" cy="111.0" r="3.4" fill="#f0b300"/>
<circle cx="480.5" cy="47.0" r="3.4" fill="#f0b300"/>
<circle cx="487.6" cy="38.1" r="3.4" fill="#f0b300"/>
<circle cx="427.1" cy="115.6" r="3.4" fill="#f0b300"/>
<circle cx="481.1" cy="60.5" r="3.4" fill="#f0b300"/>
<circle cx="471.7" cy="49.2" r="3.4" fill="#f0b300"/>
<circle cx="469.1" cy="70.6" r="3.4" fill="#f0b300"/>
<circle cx="480.4" cy="64.3" r="3.4" fill="#f0b300"/>
<circle cx="465.6" cy="28.1" r="3.4" fill="#f0b300"/>
<circle cx="432.1" cy="115.9" r="3.4" fill="#f0b300"/>
<circle cx="461.5" cy="71.6" r="3.4" fill="#f0b300"/>
<circle cx="415.5" cy="121.8" r="3.4" fill="#f0b300"/>
<circle cx="428.4" cy="134.0" r="3.4" fill="#f0b300"/>
<circle cx="475.3" cy="27.9" r="3.4" fill="#f0b300"/>
<circle cx="432.8" cy="135.1" r="3.4" fill="#f0b300"/>
<circle cx="424.3" cy="124.3" r="3.4" fill="#f0b300"/>
<circle cx="412.7" cy="122.4" r="3.4" fill="#f0b300"/>
<circle cx="493.6" cy="5.3" r="3.4" fill="#f0b300"/>
<circle cx="468.8" cy="37.5" r="3.4" fill="#f0b300"/>
<circle cx="442.0" cy="88.1" r="3.4" fill="#f0b300"/>
<circle cx="490.9" cy="25.2" r="3.4" fill="#f0b300"/>
<circle cx="446.3" cy="80.6" r="3.4" fill="#f0b300"/>
<circle cx="465.9" cy="30.3" r="3.4" fill="#f0b300"/>
<circle cx="447.9" cy="58.3" r="3.4" fill="#f0b300"/>
<circle cx="472.4" cy="72.6" r="3.4" fill="#f0b300"/>
<circle cx="484.8" cy="41.0" r="3.4" fill="#f0b300"/>
<circle cx="427.8" cy="121.9" r="3.4" fill="#f0b300"/>
<circle cx="434.4" cy="127.8" r="3.4" fill="#f0b300"/>
<circle cx="416.6" cy="141.9" r="3.4" fill="#f0b300"/>
<circle cx="477.5" cy="60.7" r="3.4" fill="#f0b300"/>
<circle cx="480.1" cy="61.1" r="3.4" fill="#f0b300"/>
<circle cx="516.5" cy="5.3" r="3.4" fill="#f0b300"/>
<circle cx="477.6" cy="51.4" r="3.4" fill="#f0b300"/>
<circle cx="450.2" cy="51.4" r="3.4" fill="#f0b300"/>
<circle cx="473.3" cy="50.6" r="3.4" fill="#f0b300"/>
<circle cx="450.2" cy="74.4" r="3.4" fill="#f0b300"/>
<circle cx="451.4" cy="75.2" r="3.4" fill="#f0b300"/>
<circle cx="424.7" cy="135.9" r="3.4" fill="#f0b300"/>
<circle cx="463.1" cy="40.2" r="3.4" fill="#f0b300"/>
<circle cx="467.5" cy="55.0" r="3.4" fill="#f0b300"/>
<circle cx="453.8" cy="58.6" r="3.4" fill="#f0b300"/>
<circle cx="501.2" cy="23.4" r="3.4" fill="#f0b300"/>
<circle cx="471.2" cy="43.8" r="3.4" fill="#f0b300"/>
<circle cx="471.3" cy="43.2" r="3.4" fill="#f0b300"/>
<circle cx="461.7" cy="81.8" r="3.4" fill="#f0b300"/>
<circle cx="429.9" cy="124.9" r="3.4" fill="#f0b300"/>
<circle cx="438.6" cy="105.5" r="3.4" fill="#f0b300"/>
<circle cx="457.0" cy="67.5" r="3.4" fill="#f0b300"/>
<circle cx="477.6" cy="62.4" r="3.4" fill="#f0b300"/>
<circle cx="504.3" cy="11.7" r="3.4" fill="#f0b300"/>
<circle cx="503.9" cy="11.9" r="3.4" fill="#f0b300"/>
<circle cx="418.7" cy="143.0" r="3.4" fill="#f0b300"/>
<circle cx="462.6" cy="34.2" r="3.4" fill="#f0b300"/>
<circle cx="494.7" cy="13.5" r="3.4" fill="#f0b300"/>
<circle cx="447.4" cy="110.2" r="3.4" fill="#f0b300"/>
<circle cx="467.4" cy="39.6" r="3.4" fill="#f0b300"/>
<circle cx="422.9" cy="125.8" r="3.4" fill="#f0b300"/>
<circle cx="442.1" cy="53.1" r="3.4" fill="#f0b300"/>
<circle cx="493.0" cy="21.8" r="3.4" fill="#f0b300"/>
<circle cx="464.0" cy="42.9" r="3.4" fill="#f0b300"/>
<circle cx="510.2" cy="7.9" r="3.4" fill="#f0b300"/>
<circle cx="444.4" cy="49.5" r="3.4" fill="#f0b300"/>
<circle cx="421.3" cy="102.5" r="3.4" fill="#f0b300"/>
<circle cx="455.0" cy="92.1" r="3.4" fill="#f0b300"/>
<circle cx="478.3" cy="56.0" r="3.4" fill="#f0b300"/>
<circle cx="475.8" cy="46.5" r="3.4" fill="#f0b300"/>
<circle cx="469.0" cy="24.3" r="3.4" fill="#f0b300"/>
<circle cx="432.6" cy="79.1" r="3.4" fill="#f0b300"/>
<circle cx="501.3" cy="18.9" r="3.4" fill="#f0b300"/>
<circle cx="456.1" cy="61.7" r="3.4" fill="#f0b300"/>
<circle cx="434.9" cy="115.1" r="3.4" fill="#f0b300"/>
<circle cx="468.7" cy="56.4" r="3.4" fill="#f0b300"/>
<circle cx="484.7" cy="55.6" r="3.4" fill="#f0b300"/>
<circle cx="494.3" cy="42.9" r="3.4" fill="#f0b300"/>
<circle cx="474.6" cy="21.6" r="3.4" fill="#f0b300"/>
<circle cx="459.8" cy="50.5" r="3.4" fill="#f0b300"/>
<circle cx="464.8" cy="60.2" r="3.4" fill="#f0b300"/>
<circle cx="440.5" cy="94.7" r="3.4" fill="#f0b300"/>
<circle cx="442.3" cy="116.2" r="3.4" fill="#f0b300"/>
<circle cx="489.7" cy="13.1" r="3.4" fill="#f0b300"/>
<circle cx="435.5" cy="97.5" r="3.4" fill="#f0b300"/>
<circle cx="453.7" cy="99.6" r="3.4" fill="#f0b300"/>
<circle cx="432.6" cy="133.2" r="3.4" fill="#f0b300"/>
<circle cx="439.6" cy="101.8" r="3.4" fill="#f0b300"/>
<circle cx="498.5" cy="36.0" r="3.4" fill="#f0b300"/>
<circle cx="468.7" cy="68.9" r="3.4" fill="#f0b300"/>
<circle cx="429.6" cy="95.0" r="3.4" fill="#f0b300"/>
<circle cx="472.7" cy="19.2" r="3.4" fill="#f0b300"/>
<circle cx="432.6" cy="137.9" r="3.4" fill="#f0b300"/>
<circle cx="462.4" cy="80.2" r="3.4" fill="#f0b300"/>
<circle cx="480.9" cy="32.2" r="3.4" fill="#f0b300"/>
<circle cx="441.2" cy="127.6" r="3.4" fill="#f0b300"/>
<circle cx="422.7" cy="121.5" r="3.4" fill="#f0b300"/>
<circle cx="414.5" cy="139.0" r="3.4" fill="#f0b300"/>
<circle cx="485.5" cy="24.5" r="3.4" fill="#f0b300"/>
<circle cx="453.8" cy="38.0" r="3.4" fill="#f0b300"/>
<circle cx="422.9" cy="103.6" r="3.4" fill="#f0b300"/>
<circle cx="469.1" cy="81.5" r="3.4" fill="#f0b300"/>
<circle cx="483.0" cy="9.4" r="3.4" fill="#f0b300"/>
<circle cx="469.2" cy="22.1" r="3.4" fill="#f0b300"/>
<circle cx="469.1" cy="34.2" r="3.4" fill="#f0b300"/>
<circle cx="450.4" cy="57.2" r="3.4" fill="#f0b300"/>
<circle cx="420.8" cy="111.5" r="3.4" fill="#f0b300"/>
<circle cx="492.8" cy="41.3" r="3.4" fill="#f0b300"/>
<circle cx="454.4" cy="97.4" r="3.4" fill="#f0b300"/>
<circle cx="476.0" cy="60.1" r="3.4" fill="#f0b300"/>
<circle cx="450.7" cy="51.0" r="3.4" fill="#f0b300"/>
<circle cx="514.0" cy="4.1" r="3.4" fill="#f0b300"/>
<circle cx="458.2" cy="57.6" r="3.4" fill="#f0b300"/>
<circle cx="490.7" cy="20.6" r="3.4" fill="#f0b300"/>
<circle cx="461.3" cy="44.4" r="3.4" fill="#f0b300"/>
<circle cx="430.8" cy="101.6" r="3.4" fill="#f0b300"/>
<circle cx="445.5" cy="87.8" r="3.4" fill="#f0b300"/>
<circle cx="413.4" cy="123.7" r="3.4" fill="#f0b300"/>
<circle cx="456.7" cy="57.4" r="3.4" fill="#f0b300"/>
<circle cx="491.8" cy="41.1" r="3.4" fill="#f0b300"/>
<circle cx="461.3" cy="59.0" r="3.4" fill="#f0b300"/>
<circle cx="474.5" cy="66.4" r="3.4" fill="#f0b300"/>
<circle cx="492.2" cy="12.2" r="3.4" fill="#f0b300"/>
<circle cx="461.2" cy="52.6" r="3.4" fill="#f0b300"/>
<circle cx="477.4" cy="32.2" r="3.4" fill="#f0b300"/>
<circle cx="482.3" cy="54.7" r="3.4" fill="#f0b300"/>
<circle cx="437.0" cy="102.4" r="3.4" fill="#f0b300"/>
<circle cx="420.8" cy="103.1" r="3.4" fill="#f0b300"/>
<circle cx="475.0" cy="60.8" r="3.4" fill="#f0b300"/>
<circle cx="469.4" cy="59.2" r="3.4" fill="#f0b300"/>
<circle cx="493.0" cy="30.1" r="3.4" fill="#f0b300"/>
<circle cx="447.0" cy="116.0" r="3.4" fill="#f0b300"/>
<circle cx="458.0" cy="76.0" r="3.4" fill="#f0b300"/>
<circle cx="495.2" cy="27.1" r="3.4" fill="#f0b300"/>
<circle cx="420.9" cy="148.2" r="3.4" fill="#f0b300"/>
<circle cx="481.3" cy="22.0" r="3.4" fill="#f0b300"/>
<circle cx="486.0" cy="36.4" r="3.4" fill="#f0b300"/>
<circle cx="461.2" cy="50.2" r="3.4" fill="#f0b300"/>
<circle cx="479.2" cy="25.5" r="3.4" fill="#f0b300"/>
<circle cx="479.4" cy="40.9" r="3.4" fill="#f0b300"/>
<circle cx="420.5" cy="148.8" r="3.4" fill="#f0b300"/>
<circle cx="430.8" cy="136.6" r="3.4" fill="#f0b300"/>
<circle cx="488.0" cy="50.6" r="3.4" fill="#f0b300"/>
<circle cx="456.5" cy="38.9" r="3.4" fill="#f0b300"/>
<circle cx="476.4" cy="64.5" r="3.4" fill="#f0b300"/>
<circle cx="450.1" cy="105.8" r="3.4" fill="#f0b300"/>
<circle cx="445.3" cy="112.1" r="3.4" fill="#f0b300"/>
<circle cx="453.9" cy="91.0" r="3.4" fill="#f0b300"/>
<circle cx="460.8" cy="38.8" r="3.4" fill="#f0b300"/>
<circle cx="482.0" cy="60.1" r="3.4" fill="#f0b300"/>
<circle cx="428.8" cy="136.8" r="3.4" fill="#f0b300"/>
<circle cx="420.1" cy="122.4" r="3.4" fill="#f0b300"/>
<circle cx="456.9" cy="42.0" r="3.4" fill="#f0b300"/>
<circle cx="494.5" cy="13.6" r="3.4" fill="#f0b300"/>
<circle cx="499.2" cy="7.0" r="3.4" fill="#f0b300"/>
<circle cx="422.7" cy="139.4" r="3.4" fill="#f0b300"/>
<circle cx="477.1" cy="48.7" r="3.4" fill="#f0b300"/>
<circle cx="454.5" cy="40.7" r="3.4" fill="#f0b300"/>
<circle cx="474.4" cy="39.8" r="3.4" fill="#f0b300"/>
<circle cx="478.6" cy="56.5" r="3.4" fill="#f0b300"/>
<circle cx="482.7" cy="14.5" r="3.4" fill="#f0b300"/>
<circle cx="435.2" cy="70.0" r="3.4" fill="#f0b300"/>
<circle cx="425.2" cy="133.8" r="3.4" fill="#f0b300"/>
<circle cx="449.7" cy="55.6" r="3.4" fill="#f0b300"/>
<circle cx="476.6" cy="38.9" r="3.4" fill="#f0b300"/>
<circle cx="493.4" cy="35.7" r="3.4" fill="#f0b300"/>
<circle cx="502.2" cy="4.1" r="3.4" fill="#f0b300"/>
<circle cx="500.0" cy="31.1" r="3.4" fill="#f0b300"/>
<circle cx="454.2" cy="96.4" r="3.4" fill="#f0b300"/>
<circle cx="509.5" cy="13.4" r="3.4" fill="#f0b300"/>
<circle cx="486.1" cy="22.7" r="3.4" fill="#f0b300"/>
<circle cx="483.8" cy="60.4" r="3.4" fill="#f0b300"/>
<circle cx="490.3" cy="19.8" r="3.4" fill="#f0b300"/>
<circle cx="449.9" cy="109.5" r="3.4" fill="#f0b300"/>
<circle cx="439.5" cy="96.1" r="3.4" fill="#f0b300"/>
<circle cx="451.4" cy="112.1" r="3.4" fill="#f0b300"/>
<circle cx="439.1" cy="112.7" r="3.4" fill="#f0b300"/>
<circle cx="477.8" cy="14.1" r="3.4" fill="#f0b300"/>
<circle cx="495.4" cy="24.9" r="3.4" fill="#f0b300"/>
<circle cx="432.0" cy="87.2" r="3.4" fill="#f0b300"/>
<circle cx="432.1" cy="132.6" r="3.4" fill="#f0b300"/>
<circle cx="472.1" cy="18.7" r="3.4" fill="#f0b300"/>
<circle cx="507.6" cy="14.2" r="3.4" fill="#f0b300"/>
<circle cx="438.6" cy="123.7" r="3.4" fill="#f0b300"/>
<circle cx="475.3" cy="57.2" r="3.4" fill="#f0b300"/>
<circle cx="430.7" cy="101.0" r="3.4" fill="#f0b300"/>
<circle cx="434.7" cy="118.1" r="3.4" fill="#f0b300"/>
<circle cx="460.9" cy="48.9" r="3.4" fill="#f0b300"/>
<circle cx="455.0" cy="72.4" r="3.4" fill="#f0b300"/>
<circle cx="497.4" cy="23.6" r="3.4" fill="#f0b300"/>
<circle cx="474.8" cy="40.4" r="3.4" fill="#f0b300"/>
<circle cx="456.2" cy="45.1" r="3.4" fill="#f0b300"/>
<circle cx="501.1" cy="22.1" r="3.4" fill="#f0b300"/>
<circle cx="463.9" cy="81.8" r="3.4" fill="#f0b300"/>
<circle cx="464.8" cy="46.1" r="3.4" fill="#f0b300"/>
<circle cx="492.9" cy="6.5" r="3.4" fill="#f0b300"/>
<circle cx="464.6" cy="45.7" r="3.4" fill="#f0b300"/>
<circle cx="464.4" cy="28.0" r="3.4" fill="#f0b300"/>
<circle cx="491.9" cy="27.4" r="3.4" fill="#f0b300"/>
<circle cx="460.2" cy="46.7" r="3.4" fill="#f0b300"/>
<circle cx="438.8" cy="72.8" r="3.4" fill="#f0b300"/>
<circle cx="458.9" cy="54.3" r="3.4" fill="#f0b300"/>
<circle cx="508.2" cy="15.8" r="3.4" fill="#f0b300"/>
<circle cx="490.8" cy="9.6" r="3.4" fill="#f0b300"/>
<circle cx="423.6" cy="119.6" r="3.4" fill="#f0b300"/>
<circle cx="487.1" cy="19.3" r="3.4" fill="#f0b300"/>
<circle cx="505.9" cy="16.0" r="3.4" fill="#f0b300"/>
<circle cx="503.3" cy="6.1" r="3.4" fill="#f0b300"/>
<circle cx="467.9" cy="64.8" r="3.4" fill="#f0b300"/>
<circle cx="487.7" cy="51.2" r="3.4" fill="#f0b300"/>
<circle cx="491.4" cy="10.1" r="3.4" fill="#f0b300"/>
<circle cx="437.5" cy="94.9" r="3.4" fill="#f0b300"/>
<circle cx="436.5" cy="88.3" r="3.4" fill="#f0b300"/>
<circle cx="491.9" cy="28.6" r="3.4" fill="#f0b300"/>
<circle cx="467.6" cy="77.8" r="3.4" fill="#f0b300"/>
<circle cx="492.5" cy="33.7" r="3.4" fill="#f0b300"/>
<circle cx="430.3" cy="142.3" r="3.4" fill="#f0b300"/>
<circle cx="469.2" cy="75.8" r="3.4" fill="#f0b300"/>
<circle cx="469.1" cy="33.5" r="3.4" fill="#f0b300"/>
<circle cx="434.0" cy="123.0" r="3.4" fill="#f0b300"/>
<circle cx="486.6" cy="42.4" r="3.4" fill="#f0b300"/>
<circle cx="442.3" cy="118.7" r="3.4" fill="#f0b300"/>
<circle cx="473.8" cy="41.6" r="3.4" fill="#f0b300"/>
<circle cx="481.7" cy="49.3" r="3.4" fill="#f0b300"/>
<circle cx="467.5" cy="83.4" r="3.4" fill="#f0b300"/>
<circle cx="473.0" cy="53.2" r="3.4" fill="#f0b300"/>
<circle cx="479.1" cy="19.0" r="3.4" fill="#f0b300"/>
<circle cx="456.6" cy="56.9" r="3.4" fill="#f0b300"/>
<circle cx="419.5" cy="122.3" r="3.4" fill="#f0b300"/>
<circle cx="468.3" cy="66.1" r="3.4" fill="#f0b300"/>
<circle cx="423.6" cy="124.6" r="3.4" fill="#f0b300"/>
<circle cx="490.3" cy="24.2" r="3.4" fill="#f0b300"/>
<circle cx="472.4" cy="65.0" r="3.4" fill="#f0b300"/>
<circle cx="462.9" cy="68.6" r="3.4" fill="#f0b300"/>
<circle cx="480.1" cy="51.5" r="3.4" fill="#f0b300"/>
<circle cx="442.0" cy="109.6" r="3.4" fill="#f0b300"/>
<circle cx="469.7" cy="75.2" r="3.4" fill="#f0b300"/>
<circle cx="489.0" cy="44.6" r="3.4" fill="#f0b300"/>
<circle cx="452.6" cy="70.4" r="3.4" fill="#f0b300"/>
<circle cx="459.2" cy="70.9" r="3.4" fill="#f0b300"/>
<circle cx="467.3" cy="57.0" r="3.4" fill="#f0b300"/>
<circle cx="448.8" cy="44.8" r="3.4" fill="#f0b300"/>
<circle cx="461.9" cy="69.1" r="3.4" fill="#f0b300"/>
<circle cx="478.3" cy="54.9" r="3.4" fill="#f0b300"/>
<circle cx="516.5" cy="7.1" r="3.4" fill="#f0b300"/>
<circle cx="438.3" cy="71.1" r="3.4" fill="#f0b300"/>
<circle cx="467.8" cy="48.2" r="3.4" fill="#f0b300"/>
<circle cx="477.0" cy="37.4" r="3.4" fill="#f0b300"/>
<circle cx="427.9" cy="133.1" r="3.4" fill="#f0b300"/>
<circle cx="489.3" cy="47.7" r="3.4" fill="#f0b300"/>
<circle cx="430.9" cy="130.2" r="3.4" fill="#f0b300"/>
<circle cx="422.6" cy="143.3" r="3.4" fill="#f0b300"/>
<circle cx="485.4" cy="54.3" r="3.4" fill="#f0b300"/>
<circle cx="446.0" cy="76.1" r="3.4" fill="#f0b300"/>
<circle cx="484.3" cy="38.8" r="3.4" fill="#f0b300"/>
<circle cx="435.4" cy="134.3" r="3.4" fill="#f0b300"/>
<circle cx="471.3" cy="66.6" r="3.4" fill="#f0b300"/>
<circle cx="489.6" cy="46.7" r="3.4" fill="#f0b300"/>
<circle cx="444.9" cy="48.5" r="3.4" fill="#f0b300"/>
<circle cx="425.6" cy="121.3" r="3.4" fill="#f0b300"/>
<circle cx="420.2" cy="118.0" r="3.4" fill="#f0b300"/>
<circle cx="438.7" cy="116.4" r="3.4" fill="#f0b300"/>
<circle cx="480.9" cy="37.6" r="3.4" fill="#f0b300"/>
<circle cx="469.2" cy="41.6" r="3.4" fill="#f0b300"/>
<circle cx="467.6" cy="64.5" r="3.4" fill="#f0b300"/>
<circle cx="471.0" cy="64.3" r="3.4" fill="#f0b300"/>
<circle cx="436.0" cy="119.5" r="3.4" fill="#f0b300"/>
<circle cx="456.1" cy="61.6" r="3.4" fill="#f0b300"/>
<circle cx="494.1" cy="9.9" r="3.4" fill="#f0b300"/>
<circle cx="473.5" cy="34.1" r="3.4" fill="#f0b300"/>
<circle cx="442.6" cy="122.1" r="3.4" fill="#f0b300"/>
<circle cx="479.2" cy="17.5" r="3.4" fill="#f0b300"/>
<circle cx="447.7" cy="74.3" r="3.4" fill="#f0b300"/>
<circle cx="489.7" cy="50.1" r="3.4" fill="#f0b300"/>
<circle cx="415.7" cy="125.7" r="3.4" fill="#f0b300"/>
<circle cx="477.8" cy="26.2" r="3.4" fill="#f0b300"/>
<circle cx="415.8" cy="111.2" r="3.4" fill="#f0b300"/>
<circle cx="501.6" cy="27.4" r="3.4" fill="#f0b300"/>
<circle cx="437.8" cy="103.8" r="3.4" fill="#f0b300"/>
<circle cx="492.1" cy="16.8" r="3.4" fill="#f0b300"/>
<circle cx="458.4" cy="74.3" r="3.4" fill="#f0b300"/>
<circle cx="424.6" cy="145.9" r="3.4" fill="#f0b300"/>
<circle cx="453.2" cy="48.4" r="3.4" fill="#f0b300"/>
<circle cx="437.8" cy="102.4" r="3.4" fill="#f0b300"/>
<circle cx="459.4" cy="36.5" r="3.4" fill="#f0b300"/>
<circle cx="452.0" cy="45.6" r="3.4" fill="#f0b300"/>
<circle cx="453.9" cy="42.0" r="3.4" fill="#f0b300"/>
<circle cx="513.1" cy="11.3" r="3.4" fill="#f0b300"/>
<circle cx="441.1" cy="107.1" r="3.4" fill="#f0b300"/>
<circle cx="442.6" cy="122.4" r="3.4" fill="#f0b300"/>
<circle cx="437.6" cy="112.1" r="3.4" fill="#f0b300"/>
<circle cx="465.2" cy="60.7" r="3.4" fill="#f0b300"/>
<circle cx="469.6" cy="44.6" r="3.4" fill="#f0b300"/>
<circle cx="464.2" cy="38.5" r="3.4" fill="#f0b300"/>
<circle cx="427.5" cy="137.4" r="3.4" fill="#f0b300"/>
<circle cx="472.0" cy="30.5" r="3.4" fill="#f0b300"/>
<circle cx="513.9" cy="5.2" r="3.4" fill="#f0b300"/>
<circle cx="460.0" cy="40.5" r="3.4" fill="#f0b300"/>
<circle cx="482.9" cy="57.2" r="3.4" fill="#f0b300"/>
<circle cx="421.8" cy="120.6" r="3.4" fill="#f0b300"/>
<circle cx="475.4" cy="27.1" r="3.4" fill="#f0b300"/>
<circle cx="459.4" cy="87.9" r="3.4" fill="#f0b300"/>
<circle cx="460.6" cy="43.2" r="3.4" fill="#f0b300"/>
<circle cx="490.9" cy="44.0" r="3.4" fill="#f0b300"/>
<circle cx="450.1" cy="77.0" r="3.4" fill="#f0b300"/>
<circle cx="457.6" cy="41.5" r="3.4" fill="#f0b300"/>
<circle cx="422.6" cy="130.2" r="3.4" fill="#f0b300"/>
<circle cx="451.1" cy="70.7" r="3.4" fill="#f0b300"/>
<circle cx="492.8" cy="41.3" r="3.4" fill="#f0b300"/>
<circle cx="469.7" cy="23.8" r="3.4" fill="#f0b300"/>
<circle cx="457.6" cy="59.7" r="3.4" fill="#f0b300"/>
<circle cx="472.2" cy="26.8" r="3.4" fill="#f0b300"/>
<circle cx="494.8" cy="18.9" r="3.4" fill="#f0b300"/>
<circle cx="453.7" cy="65.2" r="3.4" fill="#f0b300"/>
<circle cx="452.7" cy="101.9" r="3.4" fill="#f0b300"/>
<circle cx="469.1" cy="50.1" r="3.4" fill="#f0b300"/>
<circle cx="440.8" cy="93.5" r="3.4" fill="#f0b300"/>
<circle cx="448.8" cy="50.2" r="3.4" fill="#f0b300"/>
<circle cx="485.5" cy="19.0" r="3.4" fill="#f0b300"/>
<circle cx="481.9" cy="50.6" r="3.4" fill="#f0b300"/>
<circle cx="506.6" cy="21.0" r="3.4" fill="#f0b300"/>
<circle cx="466.7" cy="54.0" r="3.4" fill="#f0b300"/>
<circle cx="437.5" cy="130.6" r="3.4" fill="#f0b300"/>
<circle cx="452.8" cy="53.3" r="3.4" fill="#f0b300"/>
<circle cx="488.2" cy="11.9" r="3.4" fill="#f0b300"/>
<circle cx="496.7" cy="40.3" r="3.4" fill="#f0b300"/>
<circle cx="439.0" cy="100.7" r="3.4" fill="#f0b300"/>
<circle cx="461.2" cy="58.7" r="3.4" fill="#f0b300"/>
<circle cx="463.1" cy="84.3" r="3.4" fill="#f0b300"/>
<circle cx="474.1" cy="62.4" r="3.4" fill="#f0b300"/>
<circle cx="428.0" cy="147.0" r="3.4" fill="#e17800"/>
<circle cx="482.6" cy="37.2" r="3.4" fill="#f0b300"/>
<circle cx="493.8" cy="41.5" r="3.4" fill="#f0b300"/>
<circle cx="442.7" cy="108.2" r="3.4" fill="#f0b300"/>
<circle cx="466.4" cy="61.0" r="3.4" fill="#f0b300"/>
<circle cx="423.7" cy="139.1" r="3.4" fill="#f0b300"/>
<circle cx="468.8" cy="41.7" r="3.4" fill="#f0b300"/>
<circle cx="464.5" cy="89.9" r="3.4" fill="#f0b300"/>
<circle cx="507.6" cy="6.7" r="3.4" fill="#f0b300"/>
<circle cx="443.1" cy="87.6" r="3.4" fill="#f0b300"/>
<circle cx="424.9" cy="136.3" r="3.4" fill="#f0b300"/>
<circle cx="457.8" cy="32.7" r="3.4" fill="#f0b300"/>
<circle cx="485.0" cy="32.1" r="3.4" fill="#f0b300"/>
<circle cx="478.9" cy="10.7" r="3.4" fill="#f0b300"/>
<circle cx="517.2" cy="3.5" r="3.4" fill="#f0b300"/>
<circle cx="450.5" cy="56.9" r="3.4" fill="#f0b300"/>
<circle cx="498.7" cy="32.2" r="3.4" fill="#f0b300"/>
<circle cx="480.3" cy="67.2" r="3.4" fill="#f0b300"/>
<circle cx="459.8" cy="37.0" r="3.4" fill="#f0b300"/>
<circle cx="505.3" cy="12.5" r="3.4" fill="#f0b300"/>
<circle cx="516.7" cy="6.5" r="3.4" fill="#f0b300"/>
<circle cx="504.6" cy="20.1" r="3.4" fill="#f0b300"/>
<circle cx="466.3" cy="73.3" r="3.4" fill="#f0b300"/>
<circle cx="418.2" cy="138.9" r="3.4" fill="#f0b300"/>
<circle cx="449.8" cy="54.6" r="3.4" fill="#f0b300"/>
<circle cx="417.3" cy="134.2" r="3.4" fill="#f0b300"/>
<circle cx="419.1" cy="131.4" r="3.4" fill="#f0b300"/>
<circle cx="427.1" cy="146.4" r="3.4" fill="#f0b300"/>
<circle cx="447.9" cy="56.7" r="3.4" fill="#f0b300"/>
<circle cx="473.5" cy="28.1" r="3.4" fill="#f0b300"/>
<circle cx="444.3" cy="49.5" r="3.4" fill="#f0b300"/>
<circle cx="473.7" cy="5.0" r="3.4" fill="#ffff00"/>
<circle cx="410.7" cy="68.8" r="3.4" fill="#ffff00"/>
<circle cx="431.2" cy="50.1" r="3.4" fill="#ffff00"/>
<circle cx="454.6" cy="30.2" r="3.4" fill="#ffff00"/>
<circle cx="426.4" cy="51.8" r="3.4" fill="#ffff00"/>
<circle cx="461.5" cy="27.9" r="3.4" fill="#ffff00"/>
<circle cx="467.4" cy="16.8" r="3.4" fill="#ffff00"/>
<circle cx="386.2" cy="102.3" r="3.4" fill="#ffff00"/>
<circle cx="484.1" cy="6.2" r="3.4" fill="#ffff00"/>
<circle cx="440.0" cy="37.7" r="3.4" fill="#ffff00"/>
<circle cx="426.7" cy="60.4" r="3.4" fill="#ffff00"/>
<circle cx="407.4" cy="77.5" r="3.4" fill="#ffff00"/>
<circle cx="457.5" cy="24.4" r="3.4" fill="#ffff00"/>
<circle cx="414.8" cy="71.6" r="3.4" fill="#ffff00"/>
<circle cx="396.7" cy="93.9" r="3.4" fill="#ffff00"/>
<circle cx="462.7" cy="15.8" r="3.4" fill="#ffff00"/>
<circle cx="430.1" cy="50.9" r="3.4" fill="#ffff00"/>
<circle cx="421.1" cy="53.8" r="3.4" fill="#ffff00"/>
<circle cx="410.9" cy="66.0" r="3.4" fill="#ffff00"/>
<circle cx="416.8" cy="54.3" r="3.4" fill="#ffff00"/>
<circle cx="479.3" cy="8.4" r="3.4" fill="#ffff00"/>
<circle cx="429.0" cy="47.3" r="3.4" fill="#ffff00"/>
<circle cx="449.4" cy="28.0" r="3.4" fill="#ffff00"/>
<circle cx="436.7" cy="52.6" r="3.4" fill="#ffff00"/>
<circle cx="450.2" cy="24.7" r="3.4" fill="#ffff00"/>
<circle cx="481.7" cy="4.8" r="3.4" fill="#ffff00"/>
<circle cx="444.2" cy="34.0" r="3.4" fill="#ffff00"/>
<circle cx="467.6" cy="22.3" r="3.4" fill="#ffff00"/>
<circle cx="410.7" cy="65.0" r="3.4" fill="#ffff00"/>
<circle cx="442.8" cy="35.4" r="3.4" fill="#ffff00"/>
<circle cx="391.0" cy="96.6" r="3.4" fill="#ffff00"/>
<circle cx="430.5" cy="56.9" r="3.4" fill="#ffff00"/>
<circle cx="443.7" cy="39.9" r="3.4" fill="#ffff00"/>
<circle cx="418.7" cy="72.0" r="3.4" fill="#ffff00"/>
<circle cx="438.0" cy="36.0" r="3.4" fill="#ffff00"/>
<circle cx="443.1" cy="45.1" r="3.4" fill="#ffff00"/>
<circle cx="422.3" cy="51.3" r="3.4" fill="#ffff00"/>
<circle cx="400.3" cy="85.5" r="3.4" fill="#ffff00"/>
<circle cx="404.3" cy="85.0" r="3.4" fill="#ffff00"/>
<circle cx="444.4" cy="34.7" r="3.4" fill="#ffff00"/>
<circle cx="460.7" cy="24.7" r="3.4" fill="#ffff00"/>
<circle cx="420.6" cy="65.7" r="3.4" fill="#ffff00"/>
<circle cx="465.3" cy="19.9" r="3.4" fill="#ffff00"/>
<circle cx="382.0" cy="111.7" r="3.4" fill="#ffff00"/>
<circle cx="418.2" cy="64.2" r="3.4" fill="#ffff00"/>
<circle cx="408.4" cy="73.2" r="3.4" fill="#ffff00"/>
<circle cx="461.7" cy="19.0" r="3.4" fill="#ffff00"/>
<circle cx="387.4" cy="102.4" r="3.4" fill="#ffff00"/>
<circle cx="427.2" cy="61.3" r="3.4" fill="#ffff00"/>
<circle cx="399.0" cy="91.5" r="3.4" fill="#ffff00"/>
<circle cx="419.7" cy="70.7" r="3.4" fill="#ffff00"/>
<circle cx="436.4" cy="42.8" r="3.4" fill="#ffff00"/>
<circle cx="426.8" cy="54.6" r="3.4" fill="#ffff00"/>
<circle cx="485.1" cy="4.3" r="3.4" fill="#ffff00"/>
<circle cx="381.4" cy="114.0" r="3.4" fill="#ffff00"/>
<circle cx="417.2" cy="59.8" r="3.4" fill="#ffff00"/>
<circle cx="413.1" cy="71.7" r="3.4" fill="#ffff00"/>
<circle cx="464.8" cy="17.0" r="3.4" fill="#ffff00"/>
<circle cx="446.9" cy="36.7" r="3.4" fill="#ffff00"/>
<circle cx="418.5" cy="61.1" r="3.4" fill="#ffff00"/>
<circle cx="441.4" cy="37.2" r="3.4" fill="#ffff00"/>
<circle cx="437.5" cy="52.2" r="3.4" fill="#ffff00"/>
<circle cx="436.4" cy="54.8" r="3.4" fill="#ffff00"/>
<circle cx="445.3" cy="34.9" r="3.4" fill="#ffff00"/>
<circle cx="457.9" cy="27.9" r="3.4" fill="#ffff00"/>
<circle cx="450.4" cy="28.0" r="3.4" fill="#ffff00"/>
<circle cx="470.9" cy="13.8" r="3.4" fill="#ffff00"/>
<circle cx="432.9" cy="46.6" r="3.4" fill="#ffff00"/>
<circle cx="449.4" cy="28.2" r="3.4" fill="#ffff00"/>
<circle cx="455.8" cy="26.7" r="3.4" fill="#ffff00"/>
<circle cx="446.0" cy="38.5" r="3.4" fill="#ffff00"/>
<circle cx="445.0" cy="32.2" r="3.4" fill="#ffff00"/>
<circle cx="412.0" cy="72.1" r="3.4" fill="#ffff00"/>
<circle cx="471.6" cy="15.3" r="3.4" fill="#ffff00"/>
<circle cx="393.1" cy="93.2" r="3.4" fill="#ffff00"/>
<circle cx="411.9" cy="77.6" r="3.4" fill="#ffff00"/>
<circle cx="475.1" cy="6.7" r="3.4" fill="#ffff00"/>
<circle cx="473.0" cy="8.4" r="3.4" fill="#ffff00"/>
<circle cx="416.0" cy="61.8" r="3.4" fill="#ffff00"/>
<circle cx="424.8" cy="67.1" r="3.4" fill="#ffff00"/>
<circle cx="407.6" cy="81.2" r="3.4" fill="#ffff00"/>
<circle cx="424.7" cy="60.4" r="3.4" fill="#ffff00"/>
<circle cx="451.0" cy="25.2" r="3.4" fill="#ffff00"/>
<circle cx="455.5" cy="27.2" r="3.4" fill="#ffff00"/>
<circle cx="440.5" cy="36.2" r="3.4" fill="#ffff00"/>
<circle cx="432.6" cy="51.5" r="3.4" fill="#ffff00"/>
<circle cx="443.0" cy="47.7" r="3.4" fill="#ffff00"/>
<circle cx="399.5" cy="81.4" r="3.4" fill="#ffff00"/>
<circle cx="435.9" cy="49.7" r="3.4" fill="#ffff00"/>
<circle cx="411.2" cy="64.9" r="3.4" fill="#ffff00"/>
<circle cx="413.0" cy="76.5" r="3.4" fill="#ffff00"/>
<circle cx="446.5" cy="40.2" r="3.4" fill="#ffff00"/>
<circle cx="450.8" cy="28.8" r="3.4" fill="#ffff00"/>
<circle cx="455.2" cy="22.8" r="3.4" fill="#ffff00"/>
<circle cx="467.9" cy="16.0" r="3.4" fill="#ffff00"/>
<circle cx="437.6" cy="36.4" r="3.4" fill="#ffff00"/>
<circle cx="409.6" cy="72.9" r="3.4" fill="#ffff00"/>
<circle cx="430.4" cy="54.3" r="3.4" fill="#ffff00"/>
<circle cx="436.7" cy="46.5" r="3.4" fill="#ffff00"/>
<circle cx="452.3" cy="24.3" r="3.4" fill="#ffff00"/>
<circle cx="445.0" cy="36.1" r="3.4" fill="#ffff00"/>
<circle cx="455.6" cy="28.7" r="3.4" fill="#ffff00"/>
<circle cx="471.2" cy="15.2" r="3.4" fill="#ffff00"/>
<circle cx="444.3" cy="32.8" r="3.4" fill="#ffff00"/>
<circle cx="458.2" cy="21.1" r="3.4" fill="#ffff00"/>
<circle cx="401.2" cy="86.6" r="3.4" fill="#ffff00"/>
<circle cx="406.6" cy="71.0" r="3.4" fill="#ffff00"/>
<circle cx="456.8" cy="19.6" r="3.4" fill="#ffff00"/>
<circle cx="436.0" cy="40.7" r="3.4" fill="#ffff00"/>
<circle cx="423.5" cy="49.0" r="3.4" fill="#ffff00"/>
<circle cx="458.7" cy="20.8" r="3.4" fill="#ffff00"/>
<circle cx="437.1" cy="40.7" r="3.4" fill="#ffff00"/>
<circle cx="440.2" cy="47.5" r="3.4" fill="#ffff00"/>
<circle cx="453.2" cy="22.5" r="3.4" fill="#ffff00"/>
<circle cx="457.0" cy="25.3" r="3.4" fill="#ffff00"/>
<circle cx="421.9" cy="63.5" r="3.4" fill="#ffff00"/>
<circle cx="449.0" cy="30.6" r="3.4" fill="#ffff00"/>
<circle cx="422.2" cy="53.1" r="3.4" fill="#ffff00"/>
<circle cx="445.3" cy="35.0" r="3.4" fill="#ffff00"/>
<circle cx="409.7" cy="72.7" r="3.4" fill="#ffff00"/>
<circle cx="407.7" cy="79.4" r="3.4" fill="#ffff00"/>
<circle cx="422.1" cy="52.7" r="3.4" fill="#ffff00"/>
<circle cx="444.1" cy="32.8" r="3.4" fill="#ffff00"/>
<circle cx="443.1" cy="48.4" r="3.4" fill="#ffff00"/>
<circle cx="475.6" cy="10.6" r="3.4" fill="#ffff00"/>
<circle cx="383.2" cy="105.3" r="3.4" fill="#ffff00"/>
<circle cx="468.6" cy="16.9" r="3.4" fill="#ffff00"/>
<circle cx="400.2" cy="81.6" r="3.4" fill="#ffff00"/>
<circle cx="403.7" cy="76.7" r="3.4" fill="#ffff00"/>
<circle cx="453.7" cy="22.9" r="3.4" fill="#ffff00"/>
<circle cx="389.7" cy="100.3" r="3.4" fill="#ffff00"/>
<circle cx="416.8" cy="57.3" r="3.4" fill="#ffff00"/>
<circle cx="422.3" cy="53.6" r="3.4" fill="#ffff00"/>
<circle cx="482.9" cy="5.0" r="3.4" fill="#ffff00"/>
<circle cx="421.6" cy="68.3" r="3.4" fill="#ffff00"/>
<circle cx="390.4" cy="97.3" r="3.4" fill="#ffff00"/>
<circle cx="426.1" cy="45.6" r="3.4" fill="#ffff00"/>
<circle cx="431.1" cy="58.8" r="3.4" fill="#ffff00"/>
<circle cx="426.9" cy="51.1" r="3.4" fill="#ffff00"/>
<circle cx="439.7" cy="41.2" r="3.4" fill="#ffff00"/>
<circle cx="436.4" cy="39.6" r="3.4" fill="#ffff00"/>
<circle cx="465.6" cy="12.2" r="3.4" fill="#ffff00"/>
<circle cx="430.5" cy="45.0" r="3.4" fill="#ffff00"/>
<circle cx="425.3" cy="59.6" r="3.4" fill="#ffff00"/>
<circle cx="440.7" cy="32.5" r="3.4" fill="#ffff00"/>
<circle cx="450.3" cy="30.6" r="3.4" fill="#ffff00"/>
<circle cx="421.1" cy="66.4" r="3.4" fill="#ffff00"/>
<circle cx="440.4" cy="34.0" r="3.4" fill="#ffff00"/>
<circle cx="465.4" cy="11.8" r="3.4" fill="#ffff00"/>
<circle cx="402.6" cy="86.0" r="3.4" fill="#ffff00"/>
<circle cx="466.2" cy="21.1" r="3.4" fill="#ffff00"/>
<circle cx="383.8" cy="108.7" r="3.4" fill="#ffff00"/>
<circle cx="452.6" cy="23.0" r="3.4" fill="#ffff00"/>
<circle cx="479.5" cy="9.6" r="3.4" fill="#ffff00"/>
<circle cx="398.8" cy="81.7" r="3.4" fill="#ffff00"/>
<circle cx="463.0" cy="27.2" r="3.4" fill="#ffff00"/>
<circle cx="455.0" cy="32.1" r="3.4" fill="#ffff00"/>
<circle cx="433.0" cy="48.9" r="3.4" fill="#ffff00"/>
<circle cx="445.6" cy="41.8" r="3.4" fill="#ffff00"/>
<circle cx="385.9" cy="103.6" r="3.4" fill="#ffff00"/>
<circle cx="400.7" cy="78.4" r="3.4" fill="#ffff00"/>
<circle cx="459.1" cy="28.5" r="3.4" fill="#ffff00"/>
<circle cx="455.0" cy="22.2" r="3.4" fill="#ffff00"/>
<circle cx="441.2" cy="38.4" r="3.4" fill="#ffff00"/>
<circle cx="423.7" cy="50.0" r="3.4" fill="#ffff00"/>
<circle cx="457.9" cy="30.0" r="3.4" fill="#ffff00"/>
<circle cx="380.1" cy="113.0" r="3.4" fill="#ffff00"/>
<circle cx="447.7" cy="34.0" r="3.4" fill="#ffff00"/>
<circle cx="424.7" cy="59.7" r="3.4" fill="#ffff00"/>
<circle cx="447.1" cy="38.5" r="3.4" fill="#ffff00"/>
<circle cx="457.0" cy="19.8" r="3.4" fill="#ffff00"/>
<circle cx="444.7" cy="35.2" r="3.4" fill="#ffff00"/>
<circle cx="474.6" cy="15.2" r="3.4" fill="#ffff00"/>
<circle cx="416.2" cy="61.4" r="3.4" fill="#ffff00"/>
<circle cx="404.9" cy="77.3" r="3.4" fill="#ffff00"/>
<circle cx="485.5" cy="5.0" r="3.4" fill="#ffff00"/>
<circle cx="463.9" cy="26.7" r="3.4" fill="#ffff00"/>
<circle cx="449.4" cy="27.7" r="3.4" fill="#ffff00"/>
<circle cx="413.4" cy="64.9" r="3.4" fill="#ffff00"/>
<circle cx="452.4" cy="23.8" r="3.4" fill="#ffff00"/>
<circle cx="464.6" cy="21.0" r="3.4" fill="#ffff00"/>
<circle cx="421.6" cy="70.3" r="3.4" fill="#ffff00"/>
<circle cx="451.4" cy="38.4" r="3.4" fill="#ffff00"/>
<circle cx="386.4" cy="102.2" r="3.4" fill="#ffff00"/>
<circle cx="467.9" cy="12.1" r="3.4" fill="#ffff00"/>
<circle cx="451.4" cy="34.5" r="3.4" fill="#ffff00"/>
<circle cx="449.6" cy="27.6" r="3.4" fill="#ffff00"/>
<circle cx="401.8" cy="88.4" r="3.4" fill="#ffff00"/>
<circle cx="445.1" cy="39.1" r="3.4" fill="#ffff00"/>
<circle cx="433.3" cy="44.2" r="3.4" fill="#ffff00"/>
<circle cx="383.2" cy="105.1" r="3.4" fill="#ffff00"/>
<circle cx="407.4" cy="70.8" r="3.4" fill="#ffff00"/>
<circle cx="430.0" cy="55.3" r="3.4" fill="#ffff00"/>
<circle cx="394.9" cy="92.3" r="3.4" fill="#ffff00"/>
<circle cx="417.1" cy="65.3" r="3.4" fill="#ffff00"/>
<circle cx="459.3" cy="30.2" r="3.4" fill="#ffff00"/>
<circle cx="456.3" cy="23.0" r="3.4" fill="#ffff00"/>
<circle cx="381.9" cy="112.6" r="3.4" fill="#ffff00"/>
<circle cx="429.7" cy="45.4" r="3.4" fill="#ffff00"/>
<circle cx="394.6" cy="96.2" r="3.4" fill="#ffff00"/>
<circle cx="416.9" cy="68.5" r="3.4" fill="#ffff00"/>
<circle cx="396.3" cy="86.6" r="3.4" fill="#ffff00"/>
<circle cx="472.4" cy="18.1" r="3.4" fill="#ffff00"/>
<circle cx="408.0" cy="70.6" r="3.4" fill="#ffff00"/>
<circle cx="455.9" cy="24.4" r="3.4" fill="#ffff00"/>
<circle cx="424.0" cy="52.1" r="3.4" fill="#ffff00"/>
<circle cx="457.1" cy="23.6" r="3.4" fill="#ffff00"/>
<circle cx="449.8" cy="26.5" r="3.4" fill="#ffff00"/>
<circle cx="398.5" cy="87.2" r="3.4" fill="#ffff00"/>
<circle cx="449.1" cy="39.3" r="3.4" fill="#ffff00"/>
<circle cx="456.9" cy="19.8" r="3.4" fill="#ffff00"/>
<circle cx="420.0" cy="61.8" r="3.4" fill="#ffff00"/>
<circle cx="442.2" cy="32.0" r="3.4" fill="#ffff00"/>
<circle cx="419.2" cy="56.9" r="3.4" fill="#ffff00"/>
<circle cx="412.4" cy="61.6" r="3.4" fill="#ffff00"/>
<circle cx="420.2" cy="70.8" r="3.4" fill="#ffff00"/>
<circle cx="427.2" cy="49.0" r="3.4" fill="#ffff00"/>
<circle cx="459.8" cy="28.6" r="3.4" fill="#ffff00"/>
<circle cx="422.6" cy="52.0" r="3.4" fill="#ffff00"/>
<circle cx="460.8" cy="16.7" r="3.4" fill="#ffff00"/>
<circle cx="414.2" cy="59.1" r="3.4" fill="#ffff00"/>
<circle cx="416.1" cy="60.0" r="3.4" fill="#ffff00"/>
<circle cx="436.5" cy="37.0" r="3.4" fill="#ffff00"/>
<circle cx="476.1" cy="4.7" r="3.4" fill="#ffff00"/>
<circle cx="427.5" cy="52.9" r="3.4" fill="#ffff00"/>
<circle cx="447.7" cy="29.0" r="3.4" fill="#ffff00"/>
<circle cx="429.7" cy="54.7" r="3.4" fill="#ffff00"/>
<circle cx="472.0" cy="17.5" r="3.4" fill="#ffff00"/>
<circle cx="396.8" cy="91.8" r="3.4" fill="#ffff00"/>
<circle cx="466.7" cy="12.7" r="3.4" fill="#ffff00"/>
<circle cx="393.2" cy="96.5" r="3.4" fill="#ffff00"/>
<circle cx="433.8" cy="45.9" r="3.4" fill="#ffff00"/>
<circle cx="454.6" cy="35.4" r="3.4" fill="#ffff00"/>
<circle cx="400.8" cy="85.4" r="3.4" fill="#ffff00"/>
<circle cx="482.5" cy="7.9" r="3.4" fill="#ffff00"/>
<circle cx="446.4" cy="41.6" r="3.4" fill="#ffff00"/>
<circle cx="431.9" cy="59.6" r="3.4" fill="#ffff00"/>
<circle cx="407.0" cy="74.8" r="3.4" fill="#ffff00"/>
<circle cx="442.2" cy="36.4" r="3.4" fill="#ffff00"/>
<circle cx="403.5" cy="82.3" r="3.4" fill="#ffff00"/>
<circle cx="444.5" cy="32.0" r="3.4" fill="#ffff00"/>
<circle cx="393.2" cy="95.6" r="3.4" fill="#ffff00"/>
<circle cx="426.6" cy="46.1" r="3.4" fill="#ffff00"/>
<circle cx="401.5" cy="85.3" r="3.4" fill="#ffff00"/>
<circle cx="430.0" cy="60.1" r="3.4" fill="#ffff00"/>
<circle cx="452.9" cy="37.2" r="3.4" fill="#ffff00"/>
<circle cx="425.5" cy="65.5" r="3.4" fill="#ffff00"/>
<circle cx="387.8" cy="100.6" r="3.4" fill="#ffff00"/>
<circle cx="467.9" cy="16.1" r="3.4" fill="#ffff00"/>
<circle cx="435.3" cy="38.0" r="3.4" fill="#ffff00"/>
<circle cx="444.2" cy="45.5" r="3.4" fill="#ffff00"/>
<circle cx="472.1" cy="6.7" r="3.4" fill="#ffff00"/>
<circle cx="465.8" cy="13.1" r="3.4" fill="#ffff00"/>
<circle cx="442.2" cy="34.0" r="3.4" fill="#ffff00"/>
<circle cx="416.9" cy="70.4" r="3.4" fill="#ffff00"/>
<circle cx="443.4" cy="41.3" r="3.4" fill="#ffff00"/>
<circle cx="459.1" cy="23.3" r="3.4" fill="#ffff00"/>
<circle cx="448.6" cy="35.5" r="3.4" fill="#ffff00"/>
<circle cx="456.7" cy="24.6" r="3.4" fill="#ffff00"/>
<circle cx="475.9" cy="7.1" r="3.4" fill="#ffff00"/>
<circle cx="417.4" cy="71.0" r="3.4" fill="#ffff00"/>
<circle cx="389.8" cy="98.0" r="3.4" fill="#ffff00"/>
<circle cx="400.2" cy="81.3" r="3.4" fill="#ffff00"/>
<circle cx="410.1" cy="65.7" r="3.4" fill="#ffff00"/>
<circle cx="437.3" cy="46.0" r="3.4" fill="#ffff00"/>
<circle cx="411.8" cy="71.4" r="3.4" fill="#ffff00"/>
<circle cx="396.4" cy="94.3" r="3.4" fill="#ffff00"/>
<circle cx="458.1" cy="26.3" r="3.4" fill="#ffff00"/>
<circle cx="450.4" cy="40.1" r="3.4" fill="#ffff00"/>
<circle cx="410.6" cy="77.2" r="3.4" fill="#ffff00"/>
<circle cx="445.2" cy="43.9" r="3.4" fill="#ffff00"/>
<circle cx="426.5" cy="45.2" r="3.4" fill="#ffff00"/>
<circle cx="425.9" cy="51.0" r="3.4" fill="#ffff00"/>
<circle cx="384.1" cy="104.4" r="3.4" fill="#ffff00"/>
<circle cx="442.5" cy="33.6" r="3.4" fill="#ffff00"/>
<circle cx="475.7" cy="4.4" r="3.4" fill="#ffff00"/>
<circle cx="393.1" cy="95.6" r="3.4" fill="#ffff00"/>
<circle cx="408.5" cy="75.0" r="3.4" fill="#ffff00"/>
<circle cx="399.1" cy="82.2" r="3.4" fill="#ffff00"/>
<circle cx="395.0" cy="94.1" r="3.4" fill="#ffff00"/>
<circle cx="453.4" cy="33.5" r="3.4" fill="#ffff00"/>
<circle cx="451.2" cy="30.2" r="3.4" fill="#ffff00"/>
<circle cx="426.4" cy="48.4" r="3.4" fill="#ffff00"/>
<circle cx="451.5" cy="33.9" r="3.4" fill="#ffff00"/>
<circle cx="461.2" cy="23.1" r="3.4" fill="#ffff00"/>
<circle cx="455.7" cy="22.9" r="3.4" fill="#ffff00"/>
<circle cx="427.7" cy="47.9" r="3.4" fill="#ffff00"/>
<circle cx="438.4" cy="45.9" r="3.4" fill="#ffff00"/>
<circle cx="400.8" cy="84.4" r="3.4" fill="#ffff00"/>
<circle cx="420.8" cy="51.2" r="3.4" fill="#ffff00"/>
<circle cx="446.9" cy="30.6" r="3.4" fill="#ffff00"/>
<circle cx="443.9" cy="39.5" r="3.4" fill="#ffff00"/>
<circle cx="468.1" cy="12.6" r="3.4" fill="#ffff00"/>
<circle cx="437.2" cy="37.1" r="3.4" fill="#ffff00"/>
<circle cx="469.8" cy="20.8" r="3.4" fill="#ffff00"/>
<circle cx="455.8" cy="23.8" r="3.4" fill="#ffff00"/>
<circle cx="452.5" cy="31.0" r="3.4" fill="#ffff00"/>
<circle cx="387.0" cy="102.3" r="3.4" fill="#ffff00"/>
<circle cx="463.8" cy="15.3" r="3.4" fill="#ffff00"/>
<circle cx="433.4" cy="52.3" r="3.4" fill="#ffff00"/>
<circle cx="421.8" cy="51.5" r="3.4" fill="#ffff00"/>
<circle cx="428.6" cy="56.5" r="3.4" fill="#ffff00"/>
<circle cx="399.6" cy="86.8" r="3.4" fill="#ffff00"/>
<circle cx="447.1" cy="31.9" r="3.4" fill="#ffff00"/>
<circle cx="430.3" cy="60.8" r="3.4" fill="#ffff00"/>
<circle cx="438.5" cy="41.9" r="3.4" fill="#ffff00"/>
<circle cx="432.0" cy="39.9" r="3.4" fill="#ffff00"/>
<circle cx="430.8" cy="41.8" r="3.4" fill="#ffff00"/>
<circle cx="452.6" cy="27.9" r="3.4" fill="#ffff00"/>
<circle cx="448.7" cy="26.2" r="3.4" fill="#ffff00"/>
<circle cx="385.1" cy="104.3" r="3.4" fill="#ffff00"/>
<circle cx="458.7" cy="20.2" r="3.4" fill="#ffff00"/>
<circle cx="452.4" cy="26.5" r="3.4" fill="#ffff00"/>
<circle cx="392.2" cy="98.5" r="3.4" fill="#ffff00"/>
<circle cx="390.7" cy="99.2" r="3.4" fill="#ffff00"/>
<circle cx="426.2" cy="57.7" r="3.4" fill="#ffff00"/>
<circle cx="408.1" cy="78.7" r="3.4" fill="#ffff00"/>
<circle cx="446.2" cy="29.6" r="3.4" fill="#ffff00"/>
<circle cx="481.3" cy="7.0" r="3.4" fill="#ffff00"/>
<circle cx="407.4" cy="72.9" r="3.4" fill="#ffff00"/>
<circle cx="411.9" cy="74.8" r="3.4" fill="#ffff00"/>
<circle cx="409.9" cy="72.7" r="3.4" fill="#ffff00"/>
<circle cx="440.3" cy="46.8" r="3.4" fill="#ffff00"/>
<circle cx="447.3" cy="43.3" r="3.4" fill="#ffff00"/>
<circle cx="459.8" cy="21.6" r="3.4" fill="#ffff00"/>
<circle cx="412.9" cy="69.5" r="3.4" fill="#ffff00"/>
<circle cx="390.5" cy="99.9" r="3.4" fill="#ffff00"/>
<circle cx="425.3" cy="65.1" r="3.4" fill="#ffff00"/>
<circle cx="461.9" cy="27.4" r="3.4" fill="#ffff00"/>
<circle cx="457.1" cy="30.3" r="3.4" fill="#ffff00"/>
<circle cx="409.3" cy="68.7" r="3.4" fill="#ffff00"/>
<circle cx="437.7" cy="50.7" r="3.4" fill="#ffff00"/>
<circle cx="455.8" cy="28.6" r="3.4" fill="#ffff00"/>
<circle cx="428.9" cy="49.8" r="3.4" fill="#ffff00"/>
<circle cx="463.8" cy="24.8" r="3.4" fill="#ffff00"/>
<circle cx="402.0" cy="90.2" r="3.4" fill="#f0b300"/>
<circle cx="407.2" cy="83.4" r="3.4" fill="#f0b300"/>
<circle cx="390.1" cy="103.6" r="3.4" fill="#f0b300"/>
<circle cx="403.6" cy="89.0" r="3.4" fill="#f0b300"/>
<circle cx="392.8" cy="101.8" r="3.4" fill="#f0b300"/>
<circle cx="399.0" cy="94.1" r="3.4" fill="#f0b300"/>
<circle cx="408.3" cy="82.5" r="3.4" fill="#f0b300"/>
<circle cx="386.3" cy="107.9" r="3.4" fill="#f0b300"/>
<circle cx="403.1" cy="87.2" r="3.4" fill="#f0b300"/>
<circle cx="395.3" cy="97.5" r="3.4" fill="#f0b300"/>
<circle cx="406.4" cy="84.4" r="3.4" fill="#f0b300"/>
<circle cx="408.1" cy="83.1" r="3.4" fill="#f0b300"/>
<circle cx="390.7" cy="102.4" r="3.4" fill="#f0b300"/>
<circle cx="403.3" cy="87.7" r="3.4" fill="#f0b300"/>
<circle cx="392.3" cy="101.4" r="3.4" fill="#f0b300"/>
<circle cx="396.5" cy="95.6" r="3.4" fill="#f0b300"/>
<circle cx="397.3" cy="87.8" r="3.4" fill="#ffff00"/>
<circle cx="396.9" cy="86.2" r="3.4" fill="#ffff00"/>
<circle cx="452.0" cy="28.9" r="3.4" fill="#ffff00"/>
<circle cx="425.6" cy="66.2" r="3.4" fill="#ffff00"/>
<circle cx="412.5" cy="76.2" r="3.4" fill="#ffff00"/>
<circle cx="428.6" cy="58.0" r="3.4" fill="#ffff00"/>
<circle cx="436.5" cy="47.0" r="3.4" fill="#ffff00"/>
<circle cx="462.9" cy="20.6" r="3.4" fill="#ffff00"/>
<circle cx="421.9" cy="64.4" r="3.4" fill="#ffff00"/>
<circle cx="397.6" cy="88.5" r="3.4" fill="#ffff00"/>
<circle cx="472.2" cy="7.0" r="3.4" fill="#ffff00"/>
<circle cx="473.3" cy="11.2" r="3.4" fill="#ffff00"/>
<circle cx="418.9" cy="62.5" r="3.4" fill="#ffff00"/>
<circle cx="459.9" cy="21.4" r="3.4" fill="#ffff00"/>
<circle cx="466.0" cy="23.1" r="3.4" fill="#ffff00"/>
<circle cx="479.7" cy="3.9" r="3.4" fill="#ffff00"/>
<circle cx="396.9" cy="89.3" r="3.4" fill="#ffff00"/>
<circle cx="452.6" cy="29.8" r="3.4" fill="#ffff00"/>
<circle cx="419.3" cy="54.5" r="3.4" fill="#ffff00"/>
<circle cx="427.1" cy="48.3" r="3.4" fill="#ffff00"/>
<circle cx="475.2" cy="11.7" r="3.4" fill="#ffff00"/>
<circle cx="473.4" cy="16.3" r="3.4" fill="#ffff00"/>
<circle cx="398.5" cy="88.6" r="3.4" fill="#ffff00"/>
<circle cx="482.5" cy="7.3" r="3.4" fill="#ffff00"/>
<circle cx="436.1" cy="48.5" r="3.4" fill="#ffff00"/>
<circle cx="461.7" cy="23.0" r="3.4" fill="#ffff00"/>
<circle cx="402.3" cy="82.2" r="3.4" fill="#ffff00"/>
<circle cx="419.5" cy="53.0" r="3.4" fill="#ffff00"/>
<circle cx="445.1" cy="31.4" r="3.4" fill="#ffff00"/>
<circle cx="399.8" cy="82.6" r="3.4" fill="#ffff00"/>
<circle cx="431.8" cy="43.7" r="3.4" fill="#ffff00"/>
<circle cx="441.1" cy="45.6" r="3.4" fill="#ffff00"/>
<circle cx="445.2" cy="31.9" r="3.4" fill="#ffff00"/>
<circle cx="412.6" cy="61.3" r="3.4" fill="#ffff00"/>
<circle cx="453.3" cy="23.6" r="3.4" fill="#ffff00"/>
<circle cx="433.0" cy="59.2" r="3.4" fill="#ffff00"/>
<circle cx="398.9" cy="83.9" r="3.4" fill="#ffff00"/>
<circle cx="414.6" cy="65.2" r="3.4" fill="#ffff00"/>
<circle cx="392.5" cy="94.2" r="3.4" fill="#ffff00"/>
<circle cx="397.3" cy="90.4" r="3.4" fill="#ffff00"/>
<circle cx="424.8" cy="56.2" r="3.4" fill="#ffff00"/>
<circle cx="390.8" cy="96.1" r="3.4" fill="#ffff00"/>
<circle cx="416.2" cy="66.0" r="3.4" fill="#ffff00"/>
<circle cx="410.7" cy="71.7" r="3.4" fill="#ffff00"/>
<circle cx="441.8" cy="47.1" r="3.4" fill="#ffff00"/>
<circle cx="458.7" cy="23.9" r="3.4" fill="#f0b300"/>
<circle cx="448.0" cy="31.7" r="3.4" fill="#f0b300"/>
<circle cx="417.5" cy="64.5" r="3.4" fill="#f0b300"/>
<circle cx="457.4" cy="24.8" r="3.4" fill="#f0b300"/>
<circle cx="419.4" cy="62.0" r="3.4" fill="#f0b300"/>
<circle cx="429.6" cy="59.4" r="3.4" fill="#f0b300"/>
<circle cx="441.0" cy="27.0" r="3.4" fill="#e17800"/>
<circle cx="448.0" cy="19.0" r="3.4" fill="#f0b300"/>
<circle cx="452.5" cy="22.0" r="3.4" fill="#f0b300"/>
<circle cx="443.8" cy="22.0" r="3.4" fill="#f0b300"/>
<circle cx="439.4" cy="30.7" r="3.4" fill="#f0b300"/>
<circle cx="461.3" cy="20.4" r="3.4" fill="#f0b300"/>
<circle cx="444.0" cy="28.0" r="3.4" fill="#f0b300"/>
<circle cx="450.0" cy="26.5" r="3.4" fill="#f0b300"/>
<circle cx="456.0" cy="17.0" r="3.4" fill="#f0b300"/>
<circle cx="436.0" cy="35.0" r="3.4" fill="#f0b300"/>
<circle cx="522.3" cy="3.8" r="3.4" fill="#ffff00"/>
<circle cx="520.3" cy="6.2" r="3.4" fill="#ffff00"/>
<circle cx="518.2" cy="8.8" r="3.4" fill="#ffff00"/>
<circle cx="516.0" cy="11.8" r="3.4" fill="#ffff00"/>
<circle cx="513.8" cy="14.8" r="3.4" fill="#ffff00"/>
<circle cx="511.6" cy="18.0" r="3.4" fill="#ffff00"/>
<circle cx="509.5" cy="21.2" r="3.4" fill="#ffff00"/>
<circle cx="507.0" cy="25.0" r="3.4" fill="#ffff00"/>
<circle cx="505.2" cy="28.2" r="3.4" fill="#ffff00"/>
<circle cx="503.4" cy="31.4" r="3.4" fill="#ffff00"/>
<circle cx="519.2" cy="4.6" r="3.4" fill="#ffff00"/>
<circle cx="517.0" cy="8.4" r="3.4" fill="#ffff00"/>
<circle cx="514.6" cy="11.6" r="3.4" fill="#ffff00"/>
<circle cx="511.0" cy="16.2" r="3.4" fill="#ffff00"/>
<circle cx="508.2" cy="20.6" r="3.4" fill="#ffff00"/>
<circle cx="213.5" cy="20.0" r="3.4" fill="#ffff00"/>
<circle cx="212.0" cy="23.0" r="3.4" fill="#ffff00"/>
<circle cx="213.0" cy="30.0" r="3.4" fill="#ffff00"/>
<circle cx="211.5" cy="35.0" r="3.4" fill="#ffff00"/>
<circle cx="212.0" cy="40.0" r="3.4" fill="#ffff00"/>
<circle cx="212.8" cy="4.1" r="3.4" fill="#ffff00"/>
<circle cx="217.1" cy="6.4" r="3.4" fill="#f0b300"/>
<circle cx="211.3" cy="11.1" r="3.4" fill="#ffff00"/>
<circle cx="216.8" cy="12.3" r="3.4" fill="#f0b300"/>
<circle cx="212.5" cy="15.2" r="3.4" fill="#ffff00"/>
<circle cx="210.9" cy="18.1" r="3.4" fill="#ffff00"/>
<circle cx="216.3" cy="22.8" r="3.4" fill="#f0b300"/>
<circle cx="215.6" cy="26.3" r="3.4" fill="#f0b300"/>
<circle cx="210.1" cy="27.5" r="3.4" fill="#ffff00"/>
<circle cx="210.1" cy="32.7" r="3.4" fill="#ffff00"/>
<circle cx="217.7" cy="32.1" r="3.4" fill="#ffff00"/>
<circle cx="210.1" cy="37.4" r="3.4" fill="#ffff00"/>
<circle cx="215.6" cy="40.9" r="3.4" fill="#f0b300"/>
<circle cx="209.3" cy="43.2" r="3.4" fill="#ffff00"/>
<circle cx="213.0" cy="46.1" r="3.4" fill="#f0b300"/>
<circle cx="211.9" cy="48.8" r="3.4" fill="#f0b300"/>
<circle cx="217.1" cy="51.7" r="3.4" fill="#e17800"/>
<circle cx="208.9" cy="52.3" r="3.4" fill="#ffff00"/>
<circle cx="211.9" cy="54.0" r="3.4" fill="#f0b300"/>
<circle cx="216.0" cy="56.4" r="3.4" fill="#e17800"/>
<circle cx="213.0" cy="59.3" r="3.4" fill="#f0b300"/>
<circle cx="213.6" cy="62.2" r="3.4" fill="#f0b300"/>
<circle cx="216.3" cy="65.1" r="3.4" fill="#e17800"/>
<circle cx="212.1" cy="65.7" r="3.4" fill="#f0b300"/>
<circle cx="208.4" cy="66.9" r="3.4" fill="#ffff00"/>
<circle cx="210.1" cy="71.5" r="3.4" fill="#ffff00"/>
<circle cx="216.0" cy="73.3" r="3.4" fill="#e17800"/>
<circle cx="214.0" cy="77.4" r="3.4" fill="#e17800"/>
<circle cx="213.0" cy="84.7" r="3.4" fill="#f0b300"/>
<circle cx="208.9" cy="83.8" r="3.4" fill="#ffff00"/>
<circle cx="216.0" cy="87.5" r="3.4" fill="#e17800"/>
<circle cx="208.6" cy="90.5" r="3.4" fill="#ffff00"/>
<circle cx="208.7" cy="102.5" r="3.4" fill="#ffff00"/>
<circle cx="216.1" cy="103.9" r="3.4" fill="#d04c00"/>
<circle cx="211.3" cy="109.8" r="3.4" fill="#e17800"/>
<circle cx="216.1" cy="111.8" r="3.4" fill="#d04c00"/>
<circle cx="214.0" cy="115.0" r="3.4" fill="#e17800"/>
<circle cx="208.9" cy="122.6" r="3.4" fill="#f0b300"/>
<circle cx="212.5" cy="122.2" r="3.4" fill="#e17800"/>
<circle cx="209.8" cy="127.9" r="3.4" fill="#f0b300"/>
<circle cx="217.5" cy="128.7" r="3.4" fill="#f0b300"/>
<circle cx="217.5" cy="131.4" r="3.4" fill="#e17800"/>
<circle cx="214.2" cy="133.4" r="3.4" fill="#d04c00"/>
<circle cx="208.7" cy="137.3" r="3.4" fill="#f0b300"/>
<circle cx="215.6" cy="137.8" r="3.4" fill="#d04c00"/>
<circle cx="213.4" cy="143.4" r="3.4" fill="#d04c00"/>
<circle cx="210.4" cy="161.4" r="3.4" fill="#e17800"/>
<circle cx="210.5" cy="167.5" r="3.4" fill="#e17800"/>
<circle cx="208.4" cy="194.0" r="3.4" fill="#e17800"/>
<circle cx="214.4" cy="197.6" r="3.4" fill="#be2c00"/>
<circle cx="209.3" cy="203.2" r="3.4" fill="#e17800"/>
<circle cx="210.7" cy="216.0" r="3.4" fill="#d04c00"/>
<circle cx="208.6" cy="213.5" r="3.4" fill="#e17800"/>
<defs><filter id="nf" x="0" y="0" width="685" height="430" filterUnits="userSpaceOnUse"><feOffset dx="0" dy="0"/></filter></defs><g filter="url(#nf)">
<text x="49.9" y="393.6" style="font-family:'Liberation Sans',sans-serif;fill:#000;font-size:20px"><tspan style="fill:transparent">1</tspan>0<tspan x="72.25" y="383.70" style="font-size:16.5px"><tspan style="fill:transparent">1</tspan></tspan></text><path d="M57.35 393.60L55.59 393.60L55.59 382.40Q54.96 383.00 53.93 383.61Q52.90 384.22 52.08 384.52L52.08 382.82Q53.55 382.13 54.66 381.14Q55.76 380.15 56.22 379.23L57.35 379.23Z" fill="#000"/><path d="M78.39 383.70L76.94 383.70L76.94 374.46Q76.42 374.96 75.57 375.46Q74.72 375.96 74.04 376.21L74.04 374.81Q75.26 374.23 76.17 373.42Q77.08 372.61 77.46 371.84L78.39 371.84Z" fill="#000"/>
<text x="240.6" y="393.6" style="font-family:'Liberation Sans',sans-serif;fill:#000;font-size:20px"><tspan style="fill:transparent">1</tspan>0<tspan x="262.95" y="383.70" style="font-size:16.5px">2</tspan></text><path d="M248.05 393.60L246.29 393.60L246.29 382.40Q245.66 383.00 244.63 383.61Q243.60 384.22 242.78 384.52L242.78 382.82Q244.25 382.13 245.36 381.14Q246.46 380.15 246.92 379.23L248.05 379.23Z" fill="#000"/>
<text x="431.3" y="393.6" style="font-family:'Liberation Sans',sans-serif;fill:#000;font-size:20px"><tspan style="fill:transparent">1</tspan>0<tspan x="453.65" y="383.70" style="font-size:16.5px">3</tspan></text><path d="M438.75 393.60L436.99 393.60L436.99 382.40Q436.36 383.00 435.33 383.61Q434.30 384.22 433.48 384.52L433.48 382.82Q434.95 382.13 436.06 381.14Q437.16 380.15 437.62 379.23L438.75 379.23Z" fill="#000"/>
<text x="23.1" y="219.2" style="font-family:'Liberation Sans',sans-serif;fill:#000;font-size:20px"><tspan style="fill:transparent">1</tspan>0<tspan x="45.45" y="209.30" style="font-size:16.5px">3</tspan></text><path d="M30.55 219.20L28.79 219.20L28.79 208.00Q28.16 208.60 27.13 209.21Q26.10 209.82 25.28 210.12L25.28 208.42Q26.75 207.73 27.86 206.74Q28.96 205.75 29.42 204.82L30.55 204.82Z" fill="#000"/>
<text x="631.6" y="170.5" style="font-family:'Liberation Sans',sans-serif;fill:#000;font-size:20px"><tspan style="fill:transparent">1</tspan>0<tspan x="653.95" y="160.60" style="font-size:16.5px">0</tspan></text><path d="M639.05 170.50L637.29 170.50L637.29 159.30Q636.66 159.90 635.63 160.51Q634.60 161.12 633.78 161.42L633.78 159.72Q635.25 159.03 636.36 158.04Q637.46 157.05 637.92 156.12L639.05 156.12Z" fill="#000"/>
<text x="631.6" y="373.2" style="font-family:'Liberation Sans',sans-serif;fill:#000;font-size:20px"><tspan style="fill:transparent">1</tspan>0<tspan x="653.95" y="363.30" style="font-size:16.5px">−<tspan style="fill:transparent">1</tspan></tspan></text><path d="M639.05 373.20L637.29 373.20L637.29 362.00Q636.66 362.60 635.63 363.21Q634.60 363.82 633.78 364.12L633.78 362.42Q635.25 361.73 636.36 360.74Q637.46 359.75 637.92 358.82L639.05 358.82Z" fill="#000"/><path d="M669.73 363.30L668.28 363.30L668.28 354.06Q667.76 354.56 666.91 355.06Q666.06 355.56 665.38 355.81L665.38 354.41Q666.60 353.83 667.51 353.02Q668.42 352.21 668.79 351.44L669.73 351.44Z" fill="#000"/>
<text x="280.6" y="420.2" style="font-family:'Liberation Sans',sans-serif;fill:#000;font-size:20px">M<tspan dy="5.6" style="font-size:16.5px">ψ</tspan><tspan dy="-5.6"> [GeV]</tspan></text>
<text transform="translate(15.4,226.5) rotate(-90)" style="font-family:'Liberation Sans',sans-serif;fill:#000;font-size:20px">M<tspan dy="3.8" style="font-size:16.5px">V</tspan><tspan dy="-3.8"> [GeV]</tspan></text>
<text transform="translate(678.3,194.7) rotate(-90)" style="font-family:'Liberation Sans',sans-serif;fill:#000;font-size:20px">g<tspan dy="5.8" style="font-size:16.5px">v</tspan></text>
</g>
</svg>
</body></html>
